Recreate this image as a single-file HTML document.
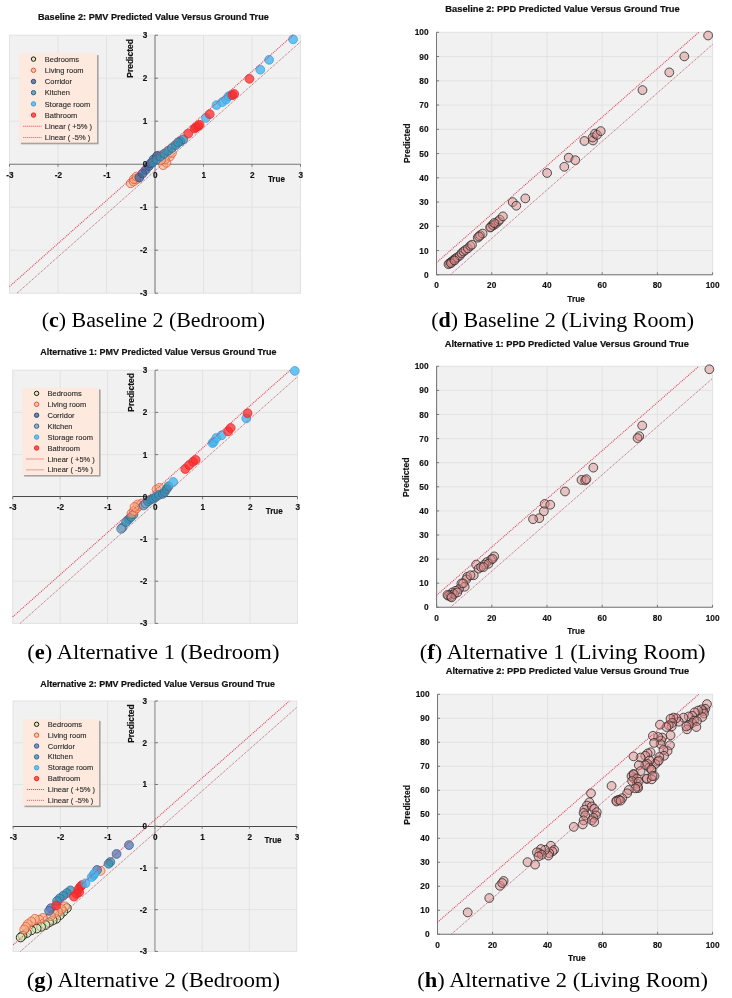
<!DOCTYPE html><html><head><meta charset="utf-8"><title>Figure</title><style>html,body{margin:0;padding:0;background:#fff;width:732px;height:998px;overflow:hidden}svg{display:block;will-change:transform}</style></head><body>
<svg width="732" height="998" viewBox="0 0 732 998">
<rect width="732" height="998" fill="#fff"/>
<rect x="9.5" y="35.2" width="291" height="258" fill="#f1f1f1" stroke="#e2e2e2" stroke-width="1"/>
<line x1="58" y1="35.2" x2="58" y2="293.2" stroke="#e1e1e1" stroke-width="0.9"/>
<line x1="9.5" y1="250.2" x2="300.5" y2="250.2" stroke="#e1e1e1" stroke-width="0.9"/>
<line x1="106.5" y1="35.2" x2="106.5" y2="293.2" stroke="#e1e1e1" stroke-width="0.9"/>
<line x1="9.5" y1="207.2" x2="300.5" y2="207.2" stroke="#e1e1e1" stroke-width="0.9"/>
<line x1="203.5" y1="35.2" x2="203.5" y2="293.2" stroke="#e1e1e1" stroke-width="0.9"/>
<line x1="9.5" y1="121.2" x2="300.5" y2="121.2" stroke="#e1e1e1" stroke-width="0.9"/>
<line x1="252" y1="35.2" x2="252" y2="293.2" stroke="#e1e1e1" stroke-width="0.9"/>
<line x1="9.5" y1="78.2" x2="300.5" y2="78.2" stroke="#e1e1e1" stroke-width="0.9"/>
<rect x="20.9" y="55.1" width="77.7" height="89.2" fill="#9a9590" opacity="0.85"/>
<rect x="19.3" y="53.5" width="77.7" height="89.2" fill="#fde9dd"/>
<circle cx="33.5" cy="59.1" r="2.2" fill="#d2e8b4" fill-opacity="0.7" stroke="#1e1e12" stroke-width="1"/>
<text x="44.8" y="61.7" font-family='"Liberation Sans", sans-serif' font-size="7.5" fill="#2c2c2c" stroke="#2c2c2c" stroke-width="0.12">Bedrooms</text>
<circle cx="33.5" cy="70.3" r="2.2" fill="#f6ad80" fill-opacity="0.6" stroke="#e0583a" stroke-width="1"/>
<text x="44.8" y="72.9" font-family='"Liberation Sans", sans-serif' font-size="7.5" fill="#2c2c2c" stroke="#2c2c2c" stroke-width="0.12">Living room</text>
<circle cx="33.5" cy="81.5" r="2.2" fill="#3d6396" fill-opacity="0.75" stroke="#2b4a80" stroke-width="1"/>
<text x="44.8" y="84.1" font-family='"Liberation Sans", sans-serif' font-size="7.5" fill="#2c2c2c" stroke="#2c2c2c" stroke-width="0.12">Corridor</text>
<circle cx="33.5" cy="92.7" r="2.2" fill="#3a8db0" fill-opacity="0.75" stroke="#2d6a96" stroke-width="1"/>
<text x="44.8" y="95.3" font-family='"Liberation Sans", sans-serif' font-size="7.5" fill="#2c2c2c" stroke="#2c2c2c" stroke-width="0.12">Kitchen</text>
<circle cx="33.5" cy="103.9" r="2.2" fill="#45b6f0" fill-opacity="0.8" stroke="#3aa2e0" stroke-width="1"/>
<text x="44.8" y="106.5" font-family='"Liberation Sans", sans-serif' font-size="7.5" fill="#2c2c2c" stroke="#2c2c2c" stroke-width="0.12">Storage room</text>
<circle cx="33.5" cy="115.1" r="2.2" fill="#ff2a2a" fill-opacity="0.75" stroke="#e02a2a" stroke-width="1"/>
<text x="44.8" y="117.7" font-family='"Liberation Sans", sans-serif' font-size="7.5" fill="#2c2c2c" stroke="#2c2c2c" stroke-width="0.12">Bathroom</text>
<line x1="23.3" y1="126.3" x2="41.8" y2="126.3" stroke="#dc3c55" stroke-width="1.05" stroke-dasharray="1 1"/>
<text x="44.8" y="128.9" font-family='"Liberation Sans", sans-serif' font-size="7.5" fill="#2c2c2c" stroke="#2c2c2c" stroke-width="0.12">Linear ( +5&#37; )</text>
<line x1="23.3" y1="137.5" x2="41.8" y2="137.5" stroke="#b8606a" stroke-width="1.0" stroke-dasharray="1 1"/>
<text x="44.8" y="140.1" font-family='"Liberation Sans", sans-serif' font-size="7.5" fill="#2c2c2c" stroke="#2c2c2c" stroke-width="0.12">Linear ( -5&#37; )</text>
<line x1="9.5" y1="164.2" x2="300.5" y2="164.2" stroke="#767676" stroke-width="1.05"/>
<line x1="155" y1="35.2" x2="155" y2="293.2" stroke="#767676" stroke-width="1.05"/>
<line x1="9.5" y1="164.2" x2="9.5" y2="166.6" stroke="#767676" stroke-width="1"/>
<line x1="155" y1="293.2" x2="158" y2="293.2" stroke="#767676" stroke-width="1"/>
<line x1="58" y1="164.2" x2="58" y2="166.6" stroke="#767676" stroke-width="1"/>
<line x1="155" y1="250.2" x2="158" y2="250.2" stroke="#767676" stroke-width="1"/>
<line x1="106.5" y1="164.2" x2="106.5" y2="166.6" stroke="#767676" stroke-width="1"/>
<line x1="155" y1="207.2" x2="158" y2="207.2" stroke="#767676" stroke-width="1"/>
<line x1="155" y1="164.2" x2="155" y2="166.6" stroke="#767676" stroke-width="1"/>
<line x1="155" y1="164.2" x2="158" y2="164.2" stroke="#767676" stroke-width="1"/>
<line x1="203.5" y1="164.2" x2="203.5" y2="166.6" stroke="#767676" stroke-width="1"/>
<line x1="155" y1="121.2" x2="158" y2="121.2" stroke="#767676" stroke-width="1"/>
<line x1="252" y1="164.2" x2="252" y2="166.6" stroke="#767676" stroke-width="1"/>
<line x1="155" y1="78.2" x2="158" y2="78.2" stroke="#767676" stroke-width="1"/>
<line x1="300.5" y1="164.2" x2="300.5" y2="166.6" stroke="#767676" stroke-width="1"/>
<line x1="155" y1="35.2" x2="158" y2="35.2" stroke="#767676" stroke-width="1"/>
<circle cx="130.7" cy="183.3" r="4.4" fill="#f6ad80" fill-opacity="0.6" stroke="#e0583a" stroke-opacity="0.9" stroke-width="0.85"/>
<circle cx="133.6" cy="181.4" r="4.4" fill="#f6ad80" fill-opacity="0.6" stroke="#e0583a" stroke-opacity="0.9" stroke-width="0.85"/>
<circle cx="136.5" cy="179.5" r="4.4" fill="#f6ad80" fill-opacity="0.6" stroke="#e0583a" stroke-opacity="0.9" stroke-width="0.85"/>
<circle cx="133.9" cy="179.1" r="4.4" fill="#f6ad80" fill-opacity="0.6" stroke="#e0583a" stroke-opacity="0.9" stroke-width="0.85"/>
<circle cx="136.4" cy="176.6" r="4.4" fill="#f6ad80" fill-opacity="0.6" stroke="#e0583a" stroke-opacity="0.9" stroke-width="0.85"/>
<circle cx="139.3" cy="177.6" r="4.4" fill="#3d6396" fill-opacity="0.75" stroke="#2b4a80" stroke-opacity="0.9" stroke-width="0.85"/>
<circle cx="145.6" cy="170" r="4.4" fill="#3d6396" fill-opacity="0.75" stroke="#2b4a80" stroke-opacity="0.9" stroke-width="0.85"/>
<circle cx="148.9" cy="166.1" r="4.4" fill="#3d6396" fill-opacity="0.75" stroke="#2b4a80" stroke-opacity="0.9" stroke-width="0.85"/>
<circle cx="142.5" cy="173.5" r="4.4" fill="#3d6396" fill-opacity="0.75" stroke="#2b4a80" stroke-opacity="0.9" stroke-width="0.85"/>
<circle cx="163.2" cy="165.2" r="4.4" fill="#f6ad80" fill-opacity="0.6" stroke="#e0583a" stroke-opacity="0.9" stroke-width="0.85"/>
<circle cx="166.5" cy="162.8" r="4.4" fill="#f6ad80" fill-opacity="0.6" stroke="#e0583a" stroke-opacity="0.9" stroke-width="0.85"/>
<circle cx="169.9" cy="156.5" r="4.4" fill="#f6ad80" fill-opacity="0.6" stroke="#e0583a" stroke-opacity="0.9" stroke-width="0.85"/>
<circle cx="159.5" cy="155.5" r="4.4" fill="#f6ad80" fill-opacity="0.6" stroke="#e0583a" stroke-opacity="0.9" stroke-width="0.85"/>
<circle cx="172" cy="153" r="4.4" fill="#f6ad80" fill-opacity="0.6" stroke="#e0583a" stroke-opacity="0.9" stroke-width="0.85"/>
<circle cx="165" cy="159.5" r="4.4" fill="#f6ad80" fill-opacity="0.6" stroke="#e0583a" stroke-opacity="0.9" stroke-width="0.85"/>
<circle cx="161" cy="160" r="4.4" fill="#f6ad80" fill-opacity="0.6" stroke="#e0583a" stroke-opacity="0.9" stroke-width="0.85"/>
<circle cx="150.5" cy="163.5" r="4.4" fill="#3d6396" fill-opacity="0.75" stroke="#2b4a80" stroke-opacity="0.9" stroke-width="0.85"/>
<circle cx="153.5" cy="159.5" r="4.4" fill="#3d6396" fill-opacity="0.75" stroke="#2b4a80" stroke-opacity="0.9" stroke-width="0.85"/>
<circle cx="157" cy="156" r="4.4" fill="#3d6396" fill-opacity="0.75" stroke="#2b4a80" stroke-opacity="0.9" stroke-width="0.85"/>
<circle cx="152.7" cy="162.3" r="4.4" fill="#3a8db0" fill-opacity="0.75" stroke="#2d6a96" stroke-opacity="0.9" stroke-width="0.85"/>
<circle cx="156.5" cy="159.4" r="4.4" fill="#3a8db0" fill-opacity="0.75" stroke="#2d6a96" stroke-opacity="0.9" stroke-width="0.85"/>
<circle cx="160.4" cy="156.5" r="4.4" fill="#3a8db0" fill-opacity="0.75" stroke="#2d6a96" stroke-opacity="0.9" stroke-width="0.85"/>
<circle cx="164.2" cy="153.7" r="4.4" fill="#3a8db0" fill-opacity="0.75" stroke="#2d6a96" stroke-opacity="0.9" stroke-width="0.85"/>
<circle cx="168" cy="150.8" r="4.4" fill="#3a8db0" fill-opacity="0.75" stroke="#2d6a96" stroke-opacity="0.9" stroke-width="0.85"/>
<circle cx="171.8" cy="148" r="4.4" fill="#3a8db0" fill-opacity="0.75" stroke="#2d6a96" stroke-opacity="0.9" stroke-width="0.85"/>
<circle cx="175.7" cy="145.1" r="4.4" fill="#3a8db0" fill-opacity="0.75" stroke="#2d6a96" stroke-opacity="0.9" stroke-width="0.85"/>
<circle cx="180.4" cy="141.3" r="4.4" fill="#3a8db0" fill-opacity="0.75" stroke="#2d6a96" stroke-opacity="0.9" stroke-width="0.85"/>
<circle cx="183.3" cy="139.3" r="4.4" fill="#3a8db0" fill-opacity="0.75" stroke="#2d6a96" stroke-opacity="0.9" stroke-width="0.85"/>
<circle cx="178.1" cy="142.5" r="4.4" fill="#3a8db0" fill-opacity="0.75" stroke="#2d6a96" stroke-opacity="0.9" stroke-width="0.85"/>
<circle cx="188.24" cy="133.62" r="4.4" fill="#ff2a2a" fill-opacity="0.75" stroke="#e02a2a" stroke-opacity="0.9" stroke-width="0.85"/>
<circle cx="194.56" cy="128.57" r="4.4" fill="#ff2a2a" fill-opacity="0.75" stroke="#e02a2a" stroke-opacity="0.9" stroke-width="0.85"/>
<circle cx="195.82" cy="127.3" r="4.4" fill="#ff2a2a" fill-opacity="0.75" stroke="#e02a2a" stroke-opacity="0.9" stroke-width="0.85"/>
<circle cx="198.35" cy="126.04" r="4.4" fill="#ff2a2a" fill-opacity="0.75" stroke="#e02a2a" stroke-opacity="0.9" stroke-width="0.85"/>
<circle cx="199.61" cy="124.77" r="4.4" fill="#ff2a2a" fill-opacity="0.75" stroke="#e02a2a" stroke-opacity="0.9" stroke-width="0.85"/>
<circle cx="205.93" cy="117.95" r="4.4" fill="#45b6f0" fill-opacity="0.8" stroke="#3aa2e0" stroke-opacity="0.9" stroke-width="0.85"/>
<circle cx="209.72" cy="114.16" r="4.4" fill="#ff2a2a" fill-opacity="0.75" stroke="#e02a2a" stroke-opacity="0.9" stroke-width="0.85"/>
<circle cx="216.54" cy="105.06" r="4.4" fill="#45b6f0" fill-opacity="0.8" stroke="#3aa2e0" stroke-opacity="0.9" stroke-width="0.85"/>
<circle cx="222.36" cy="102.03" r="4.4" fill="#45b6f0" fill-opacity="0.8" stroke="#3aa2e0" stroke-opacity="0.9" stroke-width="0.85"/>
<circle cx="226.15" cy="99.5" r="4.4" fill="#45b6f0" fill-opacity="0.8" stroke="#3aa2e0" stroke-opacity="0.9" stroke-width="0.85"/>
<circle cx="228.67" cy="96.22" r="4.4" fill="#45b6f0" fill-opacity="0.8" stroke="#3aa2e0" stroke-opacity="0.9" stroke-width="0.85"/>
<circle cx="231.2" cy="95.2" r="4.4" fill="#45b6f0" fill-opacity="0.8" stroke="#3aa2e0" stroke-opacity="0.9" stroke-width="0.85"/>
<circle cx="232.47" cy="95.2" r="4.4" fill="#ff2a2a" fill-opacity="0.75" stroke="#e02a2a" stroke-opacity="0.9" stroke-width="0.85"/>
<circle cx="234.23" cy="93.94" r="4.4" fill="#ff2a2a" fill-opacity="0.75" stroke="#e02a2a" stroke-opacity="0.9" stroke-width="0.85"/>
<circle cx="249.4" cy="78.78" r="4.4" fill="#ff2a2a" fill-opacity="0.75" stroke="#e02a2a" stroke-opacity="0.9" stroke-width="0.85"/>
<circle cx="260.27" cy="69.68" r="4.4" fill="#45b6f0" fill-opacity="0.8" stroke="#3aa2e0" stroke-opacity="0.9" stroke-width="0.85"/>
<circle cx="269.11" cy="59.82" r="4.4" fill="#45b6f0" fill-opacity="0.8" stroke="#3aa2e0" stroke-opacity="0.9" stroke-width="0.85"/>
<circle cx="293.12" cy="39.35" r="4.4" fill="#45b6f0" fill-opacity="0.8" stroke="#3aa2e0" stroke-opacity="0.9" stroke-width="0.85"/>
<line x1="9.5" y1="286.53" x2="292.98" y2="35.2" stroke="#dc3c55" stroke-width="1.05" stroke-dasharray="1 1"/>
<line x1="17.02" y1="293.2" x2="300.5" y2="41.86" stroke="#b8606a" stroke-width="1.0" stroke-dasharray="1 1"/>
<text x="147.2" y="296.15" text-anchor="end" font-family='"Liberation Sans", sans-serif' font-weight="bold" font-size="8.2" fill="#111" stroke="#111" stroke-width="0.15">-3</text>
<text x="9.8" y="177.5" text-anchor="middle" font-family='"Liberation Sans", sans-serif' font-weight="bold" font-size="8.2" fill="#111" stroke="#111" stroke-width="0.15">-3</text>
<text x="147.2" y="253.15" text-anchor="end" font-family='"Liberation Sans", sans-serif' font-weight="bold" font-size="8.2" fill="#111" stroke="#111" stroke-width="0.15">-2</text>
<text x="58.3" y="177.5" text-anchor="middle" font-family='"Liberation Sans", sans-serif' font-weight="bold" font-size="8.2" fill="#111" stroke="#111" stroke-width="0.15">-2</text>
<text x="147.2" y="210.15" text-anchor="end" font-family='"Liberation Sans", sans-serif' font-weight="bold" font-size="8.2" fill="#111" stroke="#111" stroke-width="0.15">-1</text>
<text x="106.8" y="177.5" text-anchor="middle" font-family='"Liberation Sans", sans-serif' font-weight="bold" font-size="8.2" fill="#111" stroke="#111" stroke-width="0.15">-1</text>
<text x="147.2" y="167.15" text-anchor="end" font-family='"Liberation Sans", sans-serif' font-weight="bold" font-size="8.2" fill="#111" stroke="#111" stroke-width="0.15">0</text>
<text x="155.3" y="177.5" text-anchor="middle" font-family='"Liberation Sans", sans-serif' font-weight="bold" font-size="8.2" fill="#111" stroke="#111" stroke-width="0.15">0</text>
<text x="147.2" y="124.15" text-anchor="end" font-family='"Liberation Sans", sans-serif' font-weight="bold" font-size="8.2" fill="#111" stroke="#111" stroke-width="0.15">1</text>
<text x="203.8" y="177.5" text-anchor="middle" font-family='"Liberation Sans", sans-serif' font-weight="bold" font-size="8.2" fill="#111" stroke="#111" stroke-width="0.15">1</text>
<text x="147.2" y="81.15" text-anchor="end" font-family='"Liberation Sans", sans-serif' font-weight="bold" font-size="8.2" fill="#111" stroke="#111" stroke-width="0.15">2</text>
<text x="252.3" y="177.5" text-anchor="middle" font-family='"Liberation Sans", sans-serif' font-weight="bold" font-size="8.2" fill="#111" stroke="#111" stroke-width="0.15">2</text>
<text x="147.2" y="38.15" text-anchor="end" font-family='"Liberation Sans", sans-serif' font-weight="bold" font-size="8.2" fill="#111" stroke="#111" stroke-width="0.15">3</text>
<text x="300.8" y="177.5" text-anchor="middle" font-family='"Liberation Sans", sans-serif' font-weight="bold" font-size="8.2" fill="#111" stroke="#111" stroke-width="0.15">3</text>
<text x="267.9" y="181.6" font-family='"Liberation Sans", sans-serif' font-weight="bold" font-size="8.5" fill="#111" stroke="#111" stroke-width="0.15" textLength="17" lengthAdjust="spacingAndGlyphs">True</text>
<text transform="translate(133.2,58.4) rotate(-90)" text-anchor="middle" font-family='"Liberation Sans", sans-serif' font-weight="bold" font-size="8.5" fill="#111" stroke="#111" stroke-width="0.15" textLength="38.5" lengthAdjust="spacingAndGlyphs">Predicted</text>
<rect x="12.7" y="370.2" width="284.8" height="253.2" fill="#f1f1f1" stroke="#e2e2e2" stroke-width="1"/>
<line x1="60.17" y1="370.2" x2="60.17" y2="623.4" stroke="#e1e1e1" stroke-width="0.9"/>
<line x1="12.7" y1="581.2" x2="297.5" y2="581.2" stroke="#e1e1e1" stroke-width="0.9"/>
<line x1="107.63" y1="370.2" x2="107.63" y2="623.4" stroke="#e1e1e1" stroke-width="0.9"/>
<line x1="12.7" y1="539" x2="297.5" y2="539" stroke="#e1e1e1" stroke-width="0.9"/>
<line x1="202.57" y1="370.2" x2="202.57" y2="623.4" stroke="#e1e1e1" stroke-width="0.9"/>
<line x1="12.7" y1="454.6" x2="297.5" y2="454.6" stroke="#e1e1e1" stroke-width="0.9"/>
<line x1="250.03" y1="370.2" x2="250.03" y2="623.4" stroke="#e1e1e1" stroke-width="0.9"/>
<line x1="12.7" y1="412.4" x2="297.5" y2="412.4" stroke="#e1e1e1" stroke-width="0.9"/>
<rect x="24.1" y="389.5" width="76.5" height="87.1" fill="#9a9590" opacity="0.85"/>
<rect x="22.5" y="387.9" width="76.5" height="87.1" fill="#fde9dd"/>
<circle cx="36.6" cy="393.4" r="2.2" fill="#d2e8b4" fill-opacity="0.7" stroke="#1e1e12" stroke-width="1"/>
<text x="47.5" y="396" font-family='"Liberation Sans", sans-serif' font-size="7.5" fill="#2c2c2c" stroke="#2c2c2c" stroke-width="0.12">Bedrooms</text>
<circle cx="36.6" cy="404.32" r="2.2" fill="#f6ad80" fill-opacity="0.6" stroke="#e0583a" stroke-width="1"/>
<text x="47.5" y="406.92" font-family='"Liberation Sans", sans-serif' font-size="7.5" fill="#2c2c2c" stroke="#2c2c2c" stroke-width="0.12">Living room</text>
<circle cx="36.6" cy="415.24" r="2.2" fill="#3d6396" fill-opacity="0.75" stroke="#2b4a80" stroke-width="1"/>
<text x="47.5" y="417.84" font-family='"Liberation Sans", sans-serif' font-size="7.5" fill="#2c2c2c" stroke="#2c2c2c" stroke-width="0.12">Corridor</text>
<circle cx="36.6" cy="426.16" r="2.2" fill="#78a8c0" fill-opacity="0.8" stroke="#3a6090" stroke-width="1"/>
<text x="47.5" y="428.76" font-family='"Liberation Sans", sans-serif' font-size="7.5" fill="#2c2c2c" stroke="#2c2c2c" stroke-width="0.12">Kitchen</text>
<circle cx="36.6" cy="437.08" r="2.2" fill="#45b6f0" fill-opacity="0.8" stroke="#3aa2e0" stroke-width="1"/>
<text x="47.5" y="439.68" font-family='"Liberation Sans", sans-serif' font-size="7.5" fill="#2c2c2c" stroke="#2c2c2c" stroke-width="0.12">Storage room</text>
<circle cx="36.6" cy="448" r="2.2" fill="#ff2a2a" fill-opacity="0.75" stroke="#e02a2a" stroke-width="1"/>
<text x="47.5" y="450.6" font-family='"Liberation Sans", sans-serif' font-size="7.5" fill="#2c2c2c" stroke="#2c2c2c" stroke-width="0.12">Bathroom</text>
<line x1="26.5" y1="458.92" x2="44.5" y2="458.92" stroke="#dc3c55" stroke-width="1.05" stroke-dasharray="1 1"/>
<text x="47.5" y="461.52" font-family='"Liberation Sans", sans-serif' font-size="7.5" fill="#2c2c2c" stroke="#2c2c2c" stroke-width="0.12">Linear ( +5&#37; )</text>
<line x1="26.5" y1="469.84" x2="44.5" y2="469.84" stroke="#b8606a" stroke-width="1.0" stroke-dasharray="1 1"/>
<text x="47.5" y="472.44" font-family='"Liberation Sans", sans-serif' font-size="7.5" fill="#2c2c2c" stroke="#2c2c2c" stroke-width="0.12">Linear ( -5&#37; )</text>
<line x1="12.7" y1="496.5" x2="297.5" y2="496.5" stroke="#4a4a4a" stroke-width="1.0"/>
<line x1="155.1" y1="370.2" x2="155.1" y2="623.4" stroke="#a2a2a2" stroke-width="1.4"/>
<line x1="12.7" y1="496.8" x2="12.7" y2="499.2" stroke="#767676" stroke-width="1"/>
<line x1="155.1" y1="623.4" x2="158.1" y2="623.4" stroke="#767676" stroke-width="1"/>
<line x1="60.17" y1="496.8" x2="60.17" y2="499.2" stroke="#767676" stroke-width="1"/>
<line x1="155.1" y1="581.2" x2="158.1" y2="581.2" stroke="#767676" stroke-width="1"/>
<line x1="107.63" y1="496.8" x2="107.63" y2="499.2" stroke="#767676" stroke-width="1"/>
<line x1="155.1" y1="539" x2="158.1" y2="539" stroke="#767676" stroke-width="1"/>
<line x1="155.1" y1="496.8" x2="155.1" y2="499.2" stroke="#767676" stroke-width="1"/>
<line x1="155.1" y1="496.8" x2="158.1" y2="496.8" stroke="#767676" stroke-width="1"/>
<line x1="202.57" y1="496.8" x2="202.57" y2="499.2" stroke="#767676" stroke-width="1"/>
<line x1="155.1" y1="454.6" x2="158.1" y2="454.6" stroke="#767676" stroke-width="1"/>
<line x1="250.03" y1="496.8" x2="250.03" y2="499.2" stroke="#767676" stroke-width="1"/>
<line x1="155.1" y1="412.4" x2="158.1" y2="412.4" stroke="#767676" stroke-width="1"/>
<line x1="297.5" y1="496.8" x2="297.5" y2="499.2" stroke="#767676" stroke-width="1"/>
<line x1="155.1" y1="370.2" x2="158.1" y2="370.2" stroke="#767676" stroke-width="1"/>
<circle cx="122.6" cy="527.4" r="4.4" fill="#78a8c0" fill-opacity="0.8" stroke="#3a6090" stroke-opacity="0.9" stroke-width="0.85"/>
<circle cx="121.2" cy="528.8" r="4.4" fill="#78a8c0" fill-opacity="0.8" stroke="#3a6090" stroke-opacity="0.9" stroke-width="0.85"/>
<circle cx="128.5" cy="519.5" r="4.4" fill="#3a8db0" fill-opacity="0.75" stroke="#2d6a96" stroke-opacity="0.9" stroke-width="0.85"/>
<circle cx="126" cy="522" r="4.4" fill="#3a8db0" fill-opacity="0.75" stroke="#2d6a96" stroke-opacity="0.9" stroke-width="0.85"/>
<circle cx="131" cy="517" r="4.4" fill="#3a8db0" fill-opacity="0.75" stroke="#2d6a96" stroke-opacity="0.9" stroke-width="0.85"/>
<circle cx="133.5" cy="514.5" r="4.4" fill="#3a8db0" fill-opacity="0.75" stroke="#2d6a96" stroke-opacity="0.9" stroke-width="0.85"/>
<circle cx="156.5" cy="489.5" r="4.4" fill="#f6ad80" fill-opacity="0.6" stroke="#e0583a" stroke-opacity="0.9" stroke-width="0.85"/>
<circle cx="159.5" cy="487.8" r="4.4" fill="#f6ad80" fill-opacity="0.6" stroke="#e0583a" stroke-opacity="0.9" stroke-width="0.85"/>
<circle cx="131.5" cy="513.5" r="4.4" fill="#f6ad80" fill-opacity="0.6" stroke="#e0583a" stroke-opacity="0.9" stroke-width="0.85"/>
<circle cx="134" cy="511" r="4.4" fill="#f6ad80" fill-opacity="0.6" stroke="#e0583a" stroke-opacity="0.9" stroke-width="0.85"/>
<circle cx="136.5" cy="508.5" r="4.4" fill="#f6ad80" fill-opacity="0.6" stroke="#e0583a" stroke-opacity="0.9" stroke-width="0.85"/>
<circle cx="139" cy="506" r="4.4" fill="#f6ad80" fill-opacity="0.6" stroke="#e0583a" stroke-opacity="0.9" stroke-width="0.85"/>
<circle cx="141.5" cy="503.5" r="4.4" fill="#f6ad80" fill-opacity="0.6" stroke="#e0583a" stroke-opacity="0.9" stroke-width="0.85"/>
<circle cx="137.5" cy="504.5" r="4.4" fill="#f6ad80" fill-opacity="0.6" stroke="#e0583a" stroke-opacity="0.9" stroke-width="0.85"/>
<circle cx="134.5" cy="507" r="4.4" fill="#f6ad80" fill-opacity="0.6" stroke="#e0583a" stroke-opacity="0.9" stroke-width="0.85"/>
<circle cx="143.7" cy="505.4" r="4.4" fill="#78a8c0" fill-opacity="0.8" stroke="#3a6090" stroke-opacity="0.9" stroke-width="0.85"/>
<circle cx="145.6" cy="503.5" r="4.4" fill="#78a8c0" fill-opacity="0.8" stroke="#3a6090" stroke-opacity="0.9" stroke-width="0.85"/>
<circle cx="148" cy="501.5" r="4.4" fill="#3a8db0" fill-opacity="0.75" stroke="#2d6a96" stroke-opacity="0.9" stroke-width="0.85"/>
<circle cx="150.4" cy="499.6" r="4.4" fill="#3a8db0" fill-opacity="0.75" stroke="#2d6a96" stroke-opacity="0.9" stroke-width="0.85"/>
<circle cx="153.2" cy="498.7" r="4.4" fill="#3a8db0" fill-opacity="0.75" stroke="#2d6a96" stroke-opacity="0.9" stroke-width="0.85"/>
<circle cx="156.1" cy="496.8" r="4.4" fill="#3a8db0" fill-opacity="0.75" stroke="#2d6a96" stroke-opacity="0.9" stroke-width="0.85"/>
<circle cx="159" cy="494.9" r="4.4" fill="#3a8db0" fill-opacity="0.75" stroke="#2d6a96" stroke-opacity="0.9" stroke-width="0.85"/>
<circle cx="162.8" cy="493.9" r="4.4" fill="#3a8db0" fill-opacity="0.75" stroke="#2d6a96" stroke-opacity="0.9" stroke-width="0.85"/>
<circle cx="164.7" cy="492" r="4.4" fill="#3a8db0" fill-opacity="0.75" stroke="#2d6a96" stroke-opacity="0.9" stroke-width="0.85"/>
<circle cx="166.6" cy="489.1" r="4.4" fill="#3a8db0" fill-opacity="0.75" stroke="#2d6a96" stroke-opacity="0.9" stroke-width="0.85"/>
<circle cx="168.5" cy="486.3" r="4.4" fill="#3a8db0" fill-opacity="0.75" stroke="#2d6a96" stroke-opacity="0.9" stroke-width="0.85"/>
<circle cx="173.3" cy="482" r="4.4" fill="#45b6f0" fill-opacity="0.8" stroke="#3aa2e0" stroke-opacity="0.9" stroke-width="0.85"/>
<circle cx="185.27" cy="469.02" r="4.4" fill="#ff2a2a" fill-opacity="0.75" stroke="#e02a2a" stroke-opacity="0.9" stroke-width="0.85"/>
<circle cx="189.17" cy="465.12" r="4.4" fill="#ff2a2a" fill-opacity="0.75" stroke="#e02a2a" stroke-opacity="0.9" stroke-width="0.85"/>
<circle cx="193.06" cy="461.75" r="4.4" fill="#ff2a2a" fill-opacity="0.75" stroke="#e02a2a" stroke-opacity="0.9" stroke-width="0.85"/>
<circle cx="195.66" cy="459.93" r="4.4" fill="#ff2a2a" fill-opacity="0.75" stroke="#e02a2a" stroke-opacity="0.9" stroke-width="0.85"/>
<circle cx="212.53" cy="443.06" r="4.4" fill="#45b6f0" fill-opacity="0.8" stroke="#3aa2e0" stroke-opacity="0.9" stroke-width="0.85"/>
<circle cx="213.83" cy="441.76" r="4.4" fill="#45b6f0" fill-opacity="0.8" stroke="#3aa2e0" stroke-opacity="0.9" stroke-width="0.85"/>
<circle cx="216.42" cy="437.87" r="4.4" fill="#45b6f0" fill-opacity="0.8" stroke="#3aa2e0" stroke-opacity="0.9" stroke-width="0.85"/>
<circle cx="221.61" cy="435.27" r="4.4" fill="#45b6f0" fill-opacity="0.8" stroke="#3aa2e0" stroke-opacity="0.9" stroke-width="0.85"/>
<circle cx="228.1" cy="431.38" r="4.4" fill="#ff2a2a" fill-opacity="0.75" stroke="#e02a2a" stroke-opacity="0.9" stroke-width="0.85"/>
<circle cx="230.7" cy="428.01" r="4.4" fill="#ff2a2a" fill-opacity="0.75" stroke="#e02a2a" stroke-opacity="0.9" stroke-width="0.85"/>
<circle cx="246.27" cy="418.4" r="4.4" fill="#45b6f0" fill-opacity="0.8" stroke="#3aa2e0" stroke-opacity="0.9" stroke-width="0.85"/>
<circle cx="247.57" cy="413.21" r="4.4" fill="#ff2a2a" fill-opacity="0.75" stroke="#e02a2a" stroke-opacity="0.9" stroke-width="0.85"/>
<circle cx="294.81" cy="370.9" r="4.4" fill="#45b6f0" fill-opacity="0.8" stroke="#3aa2e0" stroke-opacity="0.9" stroke-width="0.85"/>
<line x1="12.7" y1="616.86" x2="290.14" y2="370.2" stroke="#dc3c55" stroke-width="1.05" stroke-dasharray="1 1"/>
<line x1="20.06" y1="623.4" x2="297.5" y2="376.74" stroke="#b8606a" stroke-width="1.0" stroke-dasharray="1 1"/>
<text x="147.3" y="626.35" text-anchor="end" font-family='"Liberation Sans", sans-serif' font-weight="bold" font-size="8.2" fill="#111" stroke="#111" stroke-width="0.15">-3</text>
<text x="13" y="510.1" text-anchor="middle" font-family='"Liberation Sans", sans-serif' font-weight="bold" font-size="8.2" fill="#111" stroke="#111" stroke-width="0.15">-3</text>
<text x="147.3" y="584.15" text-anchor="end" font-family='"Liberation Sans", sans-serif' font-weight="bold" font-size="8.2" fill="#111" stroke="#111" stroke-width="0.15">-2</text>
<text x="60.47" y="510.1" text-anchor="middle" font-family='"Liberation Sans", sans-serif' font-weight="bold" font-size="8.2" fill="#111" stroke="#111" stroke-width="0.15">-2</text>
<text x="147.3" y="541.95" text-anchor="end" font-family='"Liberation Sans", sans-serif' font-weight="bold" font-size="8.2" fill="#111" stroke="#111" stroke-width="0.15">-1</text>
<text x="107.93" y="510.1" text-anchor="middle" font-family='"Liberation Sans", sans-serif' font-weight="bold" font-size="8.2" fill="#111" stroke="#111" stroke-width="0.15">-1</text>
<text x="147.3" y="499.75" text-anchor="end" font-family='"Liberation Sans", sans-serif' font-weight="bold" font-size="8.2" fill="#111" stroke="#111" stroke-width="0.15">0</text>
<text x="155.4" y="510.1" text-anchor="middle" font-family='"Liberation Sans", sans-serif' font-weight="bold" font-size="8.2" fill="#111" stroke="#111" stroke-width="0.15">0</text>
<text x="147.3" y="457.55" text-anchor="end" font-family='"Liberation Sans", sans-serif' font-weight="bold" font-size="8.2" fill="#111" stroke="#111" stroke-width="0.15">1</text>
<text x="202.87" y="510.1" text-anchor="middle" font-family='"Liberation Sans", sans-serif' font-weight="bold" font-size="8.2" fill="#111" stroke="#111" stroke-width="0.15">1</text>
<text x="147.3" y="415.35" text-anchor="end" font-family='"Liberation Sans", sans-serif' font-weight="bold" font-size="8.2" fill="#111" stroke="#111" stroke-width="0.15">2</text>
<text x="250.33" y="510.1" text-anchor="middle" font-family='"Liberation Sans", sans-serif' font-weight="bold" font-size="8.2" fill="#111" stroke="#111" stroke-width="0.15">2</text>
<text x="147.3" y="373.15" text-anchor="end" font-family='"Liberation Sans", sans-serif' font-weight="bold" font-size="8.2" fill="#111" stroke="#111" stroke-width="0.15">3</text>
<text x="297.8" y="510.1" text-anchor="middle" font-family='"Liberation Sans", sans-serif' font-weight="bold" font-size="8.2" fill="#111" stroke="#111" stroke-width="0.15">3</text>
<text x="265.7" y="513.7" font-family='"Liberation Sans", sans-serif' font-weight="bold" font-size="8.5" fill="#111" stroke="#111" stroke-width="0.15" textLength="17" lengthAdjust="spacingAndGlyphs">True</text>
<text transform="translate(134.2,392.4) rotate(-90)" text-anchor="middle" font-family='"Liberation Sans", sans-serif' font-weight="bold" font-size="8.5" fill="#111" stroke="#111" stroke-width="0.15" textLength="38.5" lengthAdjust="spacingAndGlyphs">Predicted</text>
<rect x="13.1" y="701" width="283.6" height="250.4" fill="#f1f1f1" stroke="#e2e2e2" stroke-width="1"/>
<line x1="60.37" y1="701" x2="60.37" y2="951.4" stroke="#e1e1e1" stroke-width="0.9"/>
<line x1="13.1" y1="909.67" x2="296.7" y2="909.67" stroke="#e1e1e1" stroke-width="0.9"/>
<line x1="107.63" y1="701" x2="107.63" y2="951.4" stroke="#e1e1e1" stroke-width="0.9"/>
<line x1="13.1" y1="867.93" x2="296.7" y2="867.93" stroke="#e1e1e1" stroke-width="0.9"/>
<line x1="202.17" y1="701" x2="202.17" y2="951.4" stroke="#e1e1e1" stroke-width="0.9"/>
<line x1="13.1" y1="784.47" x2="296.7" y2="784.47" stroke="#e1e1e1" stroke-width="0.9"/>
<line x1="249.43" y1="701" x2="249.43" y2="951.4" stroke="#e1e1e1" stroke-width="0.9"/>
<line x1="13.1" y1="742.73" x2="296.7" y2="742.73" stroke="#e1e1e1" stroke-width="0.9"/>
<rect x="24.5" y="720.9" width="76.1" height="86.3" fill="#9a9590" opacity="0.85"/>
<rect x="22.9" y="719.3" width="76.1" height="86.3" fill="#fde9dd"/>
<circle cx="36.6" cy="724.3" r="2.2" fill="#d2e8b4" fill-opacity="0.7" stroke="#1e1e12" stroke-width="1"/>
<text x="47.8" y="726.9" font-family='"Liberation Sans", sans-serif' font-size="7.5" fill="#2c2c2c" stroke="#2c2c2c" stroke-width="0.12">Bedrooms</text>
<circle cx="36.6" cy="735.16" r="2.2" fill="#f6ad80" fill-opacity="0.6" stroke="#e0583a" stroke-width="1"/>
<text x="47.8" y="737.76" font-family='"Liberation Sans", sans-serif' font-size="7.5" fill="#2c2c2c" stroke="#2c2c2c" stroke-width="0.12">Living room</text>
<circle cx="36.6" cy="746.02" r="2.2" fill="#5b82bb" fill-opacity="0.8" stroke="#3a5a90" stroke-width="1"/>
<text x="47.8" y="748.62" font-family='"Liberation Sans", sans-serif' font-size="7.5" fill="#2c2c2c" stroke="#2c2c2c" stroke-width="0.12">Corridor</text>
<circle cx="36.6" cy="756.88" r="2.2" fill="#3a8db0" fill-opacity="0.75" stroke="#2d6a96" stroke-width="1"/>
<text x="47.8" y="759.48" font-family='"Liberation Sans", sans-serif' font-size="7.5" fill="#2c2c2c" stroke="#2c2c2c" stroke-width="0.12">Kitchen</text>
<circle cx="36.6" cy="767.74" r="2.2" fill="#45b6f0" fill-opacity="0.8" stroke="#3aa2e0" stroke-width="1"/>
<text x="47.8" y="770.34" font-family='"Liberation Sans", sans-serif' font-size="7.5" fill="#2c2c2c" stroke="#2c2c2c" stroke-width="0.12">Storage room</text>
<circle cx="36.6" cy="778.6" r="2.2" fill="#ff2a2a" fill-opacity="0.75" stroke="#e02a2a" stroke-width="1"/>
<text x="47.8" y="781.2" font-family='"Liberation Sans", sans-serif' font-size="7.5" fill="#2c2c2c" stroke="#2c2c2c" stroke-width="0.12">Bathroom</text>
<line x1="26.9" y1="789.46" x2="44.8" y2="789.46" stroke="#dc3c55" stroke-width="1.05" stroke-dasharray="1 1"/>
<text x="47.8" y="792.06" font-family='"Liberation Sans", sans-serif' font-size="7.5" fill="#2c2c2c" stroke="#2c2c2c" stroke-width="0.12">Linear ( +5&#37; )</text>
<line x1="26.9" y1="800.32" x2="44.8" y2="800.32" stroke="#b8606a" stroke-width="1.0" stroke-dasharray="1 1"/>
<text x="47.8" y="802.92" font-family='"Liberation Sans", sans-serif' font-size="7.5" fill="#2c2c2c" stroke="#2c2c2c" stroke-width="0.12">Linear ( -5&#37; )</text>
<line x1="13.1" y1="826.5" x2="296.7" y2="826.5" stroke="#4a4a4a" stroke-width="1.0"/>
<line x1="154.9" y1="701" x2="154.9" y2="951.4" stroke="#a2a2a2" stroke-width="1.4"/>
<line x1="13.1" y1="826.2" x2="13.1" y2="828.6" stroke="#767676" stroke-width="1"/>
<line x1="154.9" y1="951.4" x2="157.9" y2="951.4" stroke="#767676" stroke-width="1"/>
<line x1="60.37" y1="826.2" x2="60.37" y2="828.6" stroke="#767676" stroke-width="1"/>
<line x1="154.9" y1="909.67" x2="157.9" y2="909.67" stroke="#767676" stroke-width="1"/>
<line x1="107.63" y1="826.2" x2="107.63" y2="828.6" stroke="#767676" stroke-width="1"/>
<line x1="154.9" y1="867.93" x2="157.9" y2="867.93" stroke="#767676" stroke-width="1"/>
<line x1="154.9" y1="826.2" x2="154.9" y2="828.6" stroke="#767676" stroke-width="1"/>
<line x1="154.9" y1="826.2" x2="157.9" y2="826.2" stroke="#767676" stroke-width="1"/>
<line x1="202.17" y1="826.2" x2="202.17" y2="828.6" stroke="#767676" stroke-width="1"/>
<line x1="154.9" y1="784.47" x2="157.9" y2="784.47" stroke="#767676" stroke-width="1"/>
<line x1="249.43" y1="826.2" x2="249.43" y2="828.6" stroke="#767676" stroke-width="1"/>
<line x1="154.9" y1="742.73" x2="157.9" y2="742.73" stroke="#767676" stroke-width="1"/>
<line x1="296.7" y1="826.2" x2="296.7" y2="828.6" stroke="#767676" stroke-width="1"/>
<line x1="154.9" y1="701" x2="157.9" y2="701" stroke="#767676" stroke-width="1"/>
<circle cx="66.83" cy="908.14" r="4.4" fill="#d2e8b4" fill-opacity="0.7" stroke="#1e1e12" stroke-opacity="0.9" stroke-width="1.0"/>
<circle cx="63.28" cy="911.69" r="4.4" fill="#d2e8b4" fill-opacity="0.7" stroke="#1e1e12" stroke-opacity="0.9" stroke-width="1.0"/>
<circle cx="59.73" cy="915.25" r="4.4" fill="#d2e8b4" fill-opacity="0.7" stroke="#1e1e12" stroke-opacity="0.9" stroke-width="1.0"/>
<circle cx="56.17" cy="918.8" r="4.4" fill="#d2e8b4" fill-opacity="0.7" stroke="#1e1e12" stroke-opacity="0.9" stroke-width="1.0"/>
<circle cx="52.62" cy="920.57" r="4.4" fill="#d2e8b4" fill-opacity="0.7" stroke="#1e1e12" stroke-opacity="0.9" stroke-width="1.0"/>
<circle cx="49.07" cy="922.35" r="4.4" fill="#d2e8b4" fill-opacity="0.7" stroke="#1e1e12" stroke-opacity="0.9" stroke-width="1.0"/>
<circle cx="45.52" cy="925.01" r="4.4" fill="#d2e8b4" fill-opacity="0.7" stroke="#1e1e12" stroke-opacity="0.9" stroke-width="1.0"/>
<circle cx="41.08" cy="926.79" r="4.4" fill="#d2e8b4" fill-opacity="0.7" stroke="#1e1e12" stroke-opacity="0.9" stroke-width="1.0"/>
<circle cx="36.64" cy="928.57" r="4.4" fill="#d2e8b4" fill-opacity="0.7" stroke="#1e1e12" stroke-opacity="0.9" stroke-width="1.0"/>
<circle cx="31.31" cy="930.34" r="4.4" fill="#d2e8b4" fill-opacity="0.7" stroke="#1e1e12" stroke-opacity="0.9" stroke-width="1.0"/>
<circle cx="26.87" cy="933.01" r="4.4" fill="#d2e8b4" fill-opacity="0.7" stroke="#1e1e12" stroke-opacity="0.9" stroke-width="1.0"/>
<circle cx="22.43" cy="935.67" r="4.4" fill="#d2e8b4" fill-opacity="0.7" stroke="#1e1e12" stroke-opacity="0.9" stroke-width="1.0"/>
<circle cx="20.66" cy="937.45" r="4.4" fill="#d2e8b4" fill-opacity="0.7" stroke="#1e1e12" stroke-opacity="0.9" stroke-width="1.0"/>
<circle cx="65.05" cy="906.37" r="4.4" fill="#f6ad80" fill-opacity="0.6" stroke="#e0583a" stroke-opacity="0.9" stroke-width="0.85"/>
<circle cx="61.5" cy="909.03" r="4.4" fill="#f6ad80" fill-opacity="0.6" stroke="#e0583a" stroke-opacity="0.9" stroke-width="0.85"/>
<circle cx="57.95" cy="911.69" r="4.4" fill="#f6ad80" fill-opacity="0.6" stroke="#e0583a" stroke-opacity="0.9" stroke-width="0.85"/>
<circle cx="54.4" cy="913.47" r="4.4" fill="#f6ad80" fill-opacity="0.6" stroke="#e0583a" stroke-opacity="0.9" stroke-width="0.85"/>
<circle cx="50.85" cy="916.13" r="4.4" fill="#f6ad80" fill-opacity="0.6" stroke="#e0583a" stroke-opacity="0.9" stroke-width="0.85"/>
<circle cx="42.86" cy="917.91" r="4.4" fill="#f6ad80" fill-opacity="0.6" stroke="#e0583a" stroke-opacity="0.9" stroke-width="0.85"/>
<circle cx="39.3" cy="919.69" r="4.4" fill="#f6ad80" fill-opacity="0.6" stroke="#e0583a" stroke-opacity="0.9" stroke-width="0.85"/>
<circle cx="34.86" cy="918.8" r="4.4" fill="#f6ad80" fill-opacity="0.6" stroke="#e0583a" stroke-opacity="0.9" stroke-width="0.85"/>
<circle cx="31.31" cy="921.46" r="4.4" fill="#f6ad80" fill-opacity="0.6" stroke="#e0583a" stroke-opacity="0.9" stroke-width="0.85"/>
<circle cx="27.76" cy="924.13" r="4.4" fill="#f6ad80" fill-opacity="0.6" stroke="#e0583a" stroke-opacity="0.9" stroke-width="0.85"/>
<circle cx="25.98" cy="926.79" r="4.4" fill="#f6ad80" fill-opacity="0.6" stroke="#e0583a" stroke-opacity="0.9" stroke-width="0.85"/>
<circle cx="24.21" cy="929.45" r="4.4" fill="#f6ad80" fill-opacity="0.6" stroke="#e0583a" stroke-opacity="0.9" stroke-width="0.85"/>
<circle cx="50.85" cy="908.14" r="4.4" fill="#5b82bb" fill-opacity="0.8" stroke="#3a5a90" stroke-opacity="0.9" stroke-width="0.85"/>
<circle cx="49.07" cy="910.81" r="4.4" fill="#5b82bb" fill-opacity="0.8" stroke="#3a5a90" stroke-opacity="0.9" stroke-width="0.85"/>
<circle cx="70.38" cy="890.38" r="4.4" fill="#3a8db0" fill-opacity="0.75" stroke="#2d6a96" stroke-opacity="0.9" stroke-width="0.85"/>
<circle cx="66.83" cy="893.05" r="4.4" fill="#3a8db0" fill-opacity="0.75" stroke="#2d6a96" stroke-opacity="0.9" stroke-width="0.85"/>
<circle cx="63.28" cy="895.71" r="4.4" fill="#3a8db0" fill-opacity="0.75" stroke="#2d6a96" stroke-opacity="0.9" stroke-width="0.85"/>
<circle cx="59.73" cy="898.37" r="4.4" fill="#3a8db0" fill-opacity="0.75" stroke="#2d6a96" stroke-opacity="0.9" stroke-width="0.85"/>
<circle cx="57.06" cy="901.04" r="4.4" fill="#3a8db0" fill-opacity="0.75" stroke="#2d6a96" stroke-opacity="0.9" stroke-width="0.85"/>
<circle cx="56.17" cy="905.48" r="4.4" fill="#ff2a2a" fill-opacity="0.75" stroke="#e02a2a" stroke-opacity="0.9" stroke-width="0.85"/>
<circle cx="81.93" cy="885.05" r="4.4" fill="#ff2a2a" fill-opacity="0.75" stroke="#e02a2a" stroke-opacity="0.9" stroke-width="0.85"/>
<circle cx="80.15" cy="886.83" r="4.4" fill="#ff2a2a" fill-opacity="0.75" stroke="#e02a2a" stroke-opacity="0.9" stroke-width="0.85"/>
<circle cx="78.37" cy="889.49" r="4.4" fill="#ff2a2a" fill-opacity="0.75" stroke="#e02a2a" stroke-opacity="0.9" stroke-width="0.85"/>
<circle cx="79.26" cy="892.16" r="4.4" fill="#ff2a2a" fill-opacity="0.75" stroke="#e02a2a" stroke-opacity="0.9" stroke-width="0.85"/>
<circle cx="76.6" cy="893.93" r="4.4" fill="#ff2a2a" fill-opacity="0.75" stroke="#e02a2a" stroke-opacity="0.9" stroke-width="0.85"/>
<circle cx="73.93" cy="896.6" r="4.4" fill="#ff2a2a" fill-opacity="0.75" stroke="#e02a2a" stroke-opacity="0.9" stroke-width="0.85"/>
<circle cx="100.57" cy="870.85" r="4.4" fill="#f6ad80" fill-opacity="0.6" stroke="#e0583a" stroke-opacity="0.9" stroke-width="0.85"/>
<circle cx="97.02" cy="869.96" r="4.4" fill="#5b82bb" fill-opacity="0.8" stroke="#3a5a90" stroke-opacity="0.9" stroke-width="0.85"/>
<circle cx="85.48" cy="883.28" r="4.4" fill="#45b6f0" fill-opacity="0.8" stroke="#3aa2e0" stroke-opacity="0.9" stroke-width="0.85"/>
<circle cx="93.47" cy="875.29" r="4.4" fill="#45b6f0" fill-opacity="0.8" stroke="#3aa2e0" stroke-opacity="0.9" stroke-width="0.85"/>
<circle cx="91.69" cy="877.06" r="4.4" fill="#45b6f0" fill-opacity="0.8" stroke="#3aa2e0" stroke-opacity="0.9" stroke-width="0.85"/>
<circle cx="94.36" cy="873.51" r="4.4" fill="#45b6f0" fill-opacity="0.8" stroke="#3aa2e0" stroke-opacity="0.9" stroke-width="0.85"/>
<circle cx="110.34" cy="861.97" r="4.4" fill="#3a8db0" fill-opacity="0.75" stroke="#2d6a96" stroke-opacity="0.9" stroke-width="0.85"/>
<circle cx="108.57" cy="863.74" r="4.4" fill="#3a8db0" fill-opacity="0.75" stroke="#2d6a96" stroke-opacity="0.9" stroke-width="0.85"/>
<circle cx="128.99" cy="845.1" r="4.4" fill="#5b82bb" fill-opacity="0.8" stroke="#3a5a90" stroke-opacity="0.9" stroke-width="0.85"/>
<circle cx="116.56" cy="853.98" r="4.4" fill="#5b82bb" fill-opacity="0.8" stroke="#3a5a90" stroke-opacity="0.9" stroke-width="0.85"/>
<line x1="13.1" y1="944.93" x2="289.37" y2="701" stroke="#dc3c55" stroke-width="1.05" stroke-dasharray="1 1"/>
<line x1="20.43" y1="951.4" x2="296.7" y2="707.47" stroke="#b8606a" stroke-width="1.0" stroke-dasharray="1 1"/>
<text x="147.1" y="954.35" text-anchor="end" font-family='"Liberation Sans", sans-serif' font-weight="bold" font-size="8.2" fill="#111" stroke="#111" stroke-width="0.15">-3</text>
<text x="13.4" y="839.5" text-anchor="middle" font-family='"Liberation Sans", sans-serif' font-weight="bold" font-size="8.2" fill="#111" stroke="#111" stroke-width="0.15">-3</text>
<text x="147.1" y="912.62" text-anchor="end" font-family='"Liberation Sans", sans-serif' font-weight="bold" font-size="8.2" fill="#111" stroke="#111" stroke-width="0.15">-2</text>
<text x="60.67" y="839.5" text-anchor="middle" font-family='"Liberation Sans", sans-serif' font-weight="bold" font-size="8.2" fill="#111" stroke="#111" stroke-width="0.15">-2</text>
<text x="147.1" y="870.88" text-anchor="end" font-family='"Liberation Sans", sans-serif' font-weight="bold" font-size="8.2" fill="#111" stroke="#111" stroke-width="0.15">-1</text>
<text x="107.93" y="839.5" text-anchor="middle" font-family='"Liberation Sans", sans-serif' font-weight="bold" font-size="8.2" fill="#111" stroke="#111" stroke-width="0.15">-1</text>
<text x="147.1" y="829.15" text-anchor="end" font-family='"Liberation Sans", sans-serif' font-weight="bold" font-size="8.2" fill="#111" stroke="#111" stroke-width="0.15">0</text>
<text x="155.2" y="839.5" text-anchor="middle" font-family='"Liberation Sans", sans-serif' font-weight="bold" font-size="8.2" fill="#111" stroke="#111" stroke-width="0.15">0</text>
<text x="147.1" y="787.42" text-anchor="end" font-family='"Liberation Sans", sans-serif' font-weight="bold" font-size="8.2" fill="#111" stroke="#111" stroke-width="0.15">1</text>
<text x="202.47" y="839.5" text-anchor="middle" font-family='"Liberation Sans", sans-serif' font-weight="bold" font-size="8.2" fill="#111" stroke="#111" stroke-width="0.15">1</text>
<text x="147.1" y="745.68" text-anchor="end" font-family='"Liberation Sans", sans-serif' font-weight="bold" font-size="8.2" fill="#111" stroke="#111" stroke-width="0.15">2</text>
<text x="249.73" y="839.5" text-anchor="middle" font-family='"Liberation Sans", sans-serif' font-weight="bold" font-size="8.2" fill="#111" stroke="#111" stroke-width="0.15">2</text>
<text x="147.1" y="703.95" text-anchor="end" font-family='"Liberation Sans", sans-serif' font-weight="bold" font-size="8.2" fill="#111" stroke="#111" stroke-width="0.15">3</text>
<text x="297" y="839.5" text-anchor="middle" font-family='"Liberation Sans", sans-serif' font-weight="bold" font-size="8.2" fill="#111" stroke="#111" stroke-width="0.15">3</text>
<text x="264.6" y="843.2" font-family='"Liberation Sans", sans-serif' font-weight="bold" font-size="8.5" fill="#111" stroke="#111" stroke-width="0.15" textLength="17" lengthAdjust="spacingAndGlyphs">True</text>
<text transform="translate(134.2,723.6) rotate(-90)" text-anchor="middle" font-family='"Liberation Sans", sans-serif' font-weight="bold" font-size="8.5" fill="#111" stroke="#111" stroke-width="0.15" textLength="38.5" lengthAdjust="spacingAndGlyphs">Predicted</text>
<rect x="436.5" y="32.3" width="276.1" height="242.5" fill="#f1f1f1" stroke="#e2e2e2" stroke-width="1"/>
<line x1="491.72" y1="32.3" x2="491.72" y2="274.8" stroke="#e1e1e1" stroke-width="0.9"/>
<line x1="546.94" y1="32.3" x2="546.94" y2="274.8" stroke="#e1e1e1" stroke-width="0.9"/>
<line x1="602.16" y1="32.3" x2="602.16" y2="274.8" stroke="#e1e1e1" stroke-width="0.9"/>
<line x1="657.38" y1="32.3" x2="657.38" y2="274.8" stroke="#e1e1e1" stroke-width="0.9"/>
<line x1="436.5" y1="250.55" x2="712.6" y2="250.55" stroke="#e1e1e1" stroke-width="0.9"/>
<line x1="436.5" y1="226.3" x2="712.6" y2="226.3" stroke="#e1e1e1" stroke-width="0.9"/>
<line x1="436.5" y1="202.05" x2="712.6" y2="202.05" stroke="#e1e1e1" stroke-width="0.9"/>
<line x1="436.5" y1="177.8" x2="712.6" y2="177.8" stroke="#e1e1e1" stroke-width="0.9"/>
<line x1="436.5" y1="153.55" x2="712.6" y2="153.55" stroke="#e1e1e1" stroke-width="0.9"/>
<line x1="436.5" y1="129.3" x2="712.6" y2="129.3" stroke="#e1e1e1" stroke-width="0.9"/>
<line x1="436.5" y1="105.05" x2="712.6" y2="105.05" stroke="#e1e1e1" stroke-width="0.9"/>
<line x1="436.5" y1="80.8" x2="712.6" y2="80.8" stroke="#e1e1e1" stroke-width="0.9"/>
<line x1="436.5" y1="56.55" x2="712.6" y2="56.55" stroke="#e1e1e1" stroke-width="0.9"/>
<line x1="436.5" y1="274.8" x2="712.6" y2="274.8" stroke="#767676" stroke-width="1.05"/>
<line x1="436.5" y1="32.3" x2="436.5" y2="274.8" stroke="#767676" stroke-width="1.05"/>
<line x1="436.5" y1="274.8" x2="436.5" y2="272.3" stroke="#767676" stroke-width="1"/>
<line x1="491.72" y1="274.8" x2="491.72" y2="272.3" stroke="#767676" stroke-width="1"/>
<line x1="546.94" y1="274.8" x2="546.94" y2="272.3" stroke="#767676" stroke-width="1"/>
<line x1="602.16" y1="274.8" x2="602.16" y2="272.3" stroke="#767676" stroke-width="1"/>
<line x1="657.38" y1="274.8" x2="657.38" y2="272.3" stroke="#767676" stroke-width="1"/>
<line x1="712.6" y1="274.8" x2="712.6" y2="272.3" stroke="#767676" stroke-width="1"/>
<line x1="436.5" y1="274.8" x2="439" y2="274.8" stroke="#767676" stroke-width="1"/>
<line x1="436.5" y1="250.55" x2="439" y2="250.55" stroke="#767676" stroke-width="1"/>
<line x1="436.5" y1="226.3" x2="439" y2="226.3" stroke="#767676" stroke-width="1"/>
<line x1="436.5" y1="202.05" x2="439" y2="202.05" stroke="#767676" stroke-width="1"/>
<line x1="436.5" y1="177.8" x2="439" y2="177.8" stroke="#767676" stroke-width="1"/>
<line x1="436.5" y1="153.55" x2="439" y2="153.55" stroke="#767676" stroke-width="1"/>
<line x1="436.5" y1="129.3" x2="439" y2="129.3" stroke="#767676" stroke-width="1"/>
<line x1="436.5" y1="105.05" x2="439" y2="105.05" stroke="#767676" stroke-width="1"/>
<line x1="436.5" y1="80.8" x2="439" y2="80.8" stroke="#767676" stroke-width="1"/>
<line x1="436.5" y1="56.55" x2="439" y2="56.55" stroke="#767676" stroke-width="1"/>
<line x1="436.5" y1="32.3" x2="439" y2="32.3" stroke="#767676" stroke-width="1"/>
<circle cx="449.5" cy="263.5" r="4.4" fill="#dd8a8a" fill-opacity="0.47" stroke="#262626" stroke-opacity="0.92" stroke-width="0.85"/>
<circle cx="450.7" cy="262.3" r="4.4" fill="#dd8a8a" fill-opacity="0.47" stroke="#262626" stroke-opacity="0.92" stroke-width="0.85"/>
<circle cx="452" cy="261.5" r="4.4" fill="#dd8a8a" fill-opacity="0.47" stroke="#262626" stroke-opacity="0.92" stroke-width="0.85"/>
<circle cx="453.9" cy="259.8" r="4.4" fill="#dd8a8a" fill-opacity="0.47" stroke="#262626" stroke-opacity="0.92" stroke-width="0.85"/>
<circle cx="455.5" cy="258.5" r="4.4" fill="#dd8a8a" fill-opacity="0.47" stroke="#262626" stroke-opacity="0.92" stroke-width="0.85"/>
<circle cx="457.2" cy="257.4" r="4.4" fill="#dd8a8a" fill-opacity="0.47" stroke="#262626" stroke-opacity="0.92" stroke-width="0.85"/>
<circle cx="459.7" cy="255.7" r="4.4" fill="#dd8a8a" fill-opacity="0.47" stroke="#262626" stroke-opacity="0.92" stroke-width="0.85"/>
<circle cx="448.5" cy="264.2" r="4.4" fill="#dd8a8a" fill-opacity="0.47" stroke="#262626" stroke-opacity="0.92" stroke-width="0.85"/>
<circle cx="451" cy="263.2" r="4.4" fill="#dd8a8a" fill-opacity="0.47" stroke="#262626" stroke-opacity="0.92" stroke-width="0.85"/>
<circle cx="454.5" cy="260.5" r="4.4" fill="#dd8a8a" fill-opacity="0.47" stroke="#262626" stroke-opacity="0.92" stroke-width="0.85"/>
<circle cx="461.5" cy="253.2" r="4.4" fill="#dd8a8a" fill-opacity="0.47" stroke="#262626" stroke-opacity="0.92" stroke-width="0.85"/>
<circle cx="463.5" cy="251.5" r="4.4" fill="#dd8a8a" fill-opacity="0.47" stroke="#262626" stroke-opacity="0.92" stroke-width="0.85"/>
<circle cx="465.4" cy="250" r="4.4" fill="#dd8a8a" fill-opacity="0.47" stroke="#262626" stroke-opacity="0.92" stroke-width="0.85"/>
<circle cx="467.9" cy="248.4" r="4.4" fill="#dd8a8a" fill-opacity="0.47" stroke="#262626" stroke-opacity="0.92" stroke-width="0.85"/>
<circle cx="470.3" cy="245.9" r="4.4" fill="#dd8a8a" fill-opacity="0.47" stroke="#262626" stroke-opacity="0.92" stroke-width="0.85"/>
<circle cx="472" cy="244.7" r="4.4" fill="#dd8a8a" fill-opacity="0.47" stroke="#262626" stroke-opacity="0.92" stroke-width="0.85"/>
<circle cx="477.7" cy="237.7" r="4.4" fill="#dd8a8a" fill-opacity="0.47" stroke="#262626" stroke-opacity="0.92" stroke-width="0.85"/>
<circle cx="480.2" cy="235.2" r="4.4" fill="#dd8a8a" fill-opacity="0.47" stroke="#262626" stroke-opacity="0.92" stroke-width="0.85"/>
<circle cx="482.6" cy="233.6" r="4.4" fill="#dd8a8a" fill-opacity="0.47" stroke="#262626" stroke-opacity="0.92" stroke-width="0.85"/>
<circle cx="479" cy="236.5" r="4.4" fill="#dd8a8a" fill-opacity="0.47" stroke="#262626" stroke-opacity="0.92" stroke-width="0.85"/>
<circle cx="490.8" cy="227" r="4.4" fill="#dd8a8a" fill-opacity="0.47" stroke="#262626" stroke-opacity="0.92" stroke-width="0.85"/>
<circle cx="492.5" cy="225" r="4.4" fill="#dd8a8a" fill-opacity="0.47" stroke="#262626" stroke-opacity="0.92" stroke-width="0.85"/>
<circle cx="493.3" cy="225.4" r="4.4" fill="#dd8a8a" fill-opacity="0.47" stroke="#262626" stroke-opacity="0.92" stroke-width="0.85"/>
<circle cx="495.7" cy="223.8" r="4.4" fill="#dd8a8a" fill-opacity="0.47" stroke="#262626" stroke-opacity="0.92" stroke-width="0.85"/>
<circle cx="498.2" cy="221.3" r="4.4" fill="#dd8a8a" fill-opacity="0.47" stroke="#262626" stroke-opacity="0.92" stroke-width="0.85"/>
<circle cx="499.8" cy="219.7" r="4.4" fill="#dd8a8a" fill-opacity="0.47" stroke="#262626" stroke-opacity="0.92" stroke-width="0.85"/>
<circle cx="502.9" cy="216.4" r="4.4" fill="#dd8a8a" fill-opacity="0.47" stroke="#262626" stroke-opacity="0.92" stroke-width="0.85"/>
<circle cx="490.1" cy="227.5" r="4.4" fill="#dd8a8a" fill-opacity="0.47" stroke="#262626" stroke-opacity="0.92" stroke-width="0.85"/>
<circle cx="494.2" cy="223" r="4.4" fill="#dd8a8a" fill-opacity="0.47" stroke="#262626" stroke-opacity="0.92" stroke-width="0.85"/>
<circle cx="512.7" cy="202.1" r="4.4" fill="#dd8a8a" fill-opacity="0.47" stroke="#262626" stroke-opacity="0.92" stroke-width="0.85"/>
<circle cx="516.3" cy="205.7" r="4.4" fill="#dd8a8a" fill-opacity="0.47" stroke="#262626" stroke-opacity="0.92" stroke-width="0.85"/>
<circle cx="525.3" cy="198.4" r="4.4" fill="#dd8a8a" fill-opacity="0.47" stroke="#262626" stroke-opacity="0.92" stroke-width="0.85"/>
<circle cx="547.1" cy="173" r="4.4" fill="#dd8a8a" fill-opacity="0.47" stroke="#262626" stroke-opacity="0.92" stroke-width="0.85"/>
<circle cx="564.3" cy="166.8" r="4.4" fill="#dd8a8a" fill-opacity="0.47" stroke="#262626" stroke-opacity="0.92" stroke-width="0.85"/>
<circle cx="568.7" cy="157.7" r="4.4" fill="#dd8a8a" fill-opacity="0.47" stroke="#262626" stroke-opacity="0.92" stroke-width="0.85"/>
<circle cx="575.3" cy="160.2" r="4.4" fill="#dd8a8a" fill-opacity="0.47" stroke="#262626" stroke-opacity="0.92" stroke-width="0.85"/>
<circle cx="584.4" cy="141" r="4.4" fill="#dd8a8a" fill-opacity="0.47" stroke="#262626" stroke-opacity="0.92" stroke-width="0.85"/>
<circle cx="593" cy="140.5" r="4.4" fill="#dd8a8a" fill-opacity="0.47" stroke="#262626" stroke-opacity="0.92" stroke-width="0.85"/>
<circle cx="592.6" cy="137.5" r="4.4" fill="#dd8a8a" fill-opacity="0.47" stroke="#262626" stroke-opacity="0.92" stroke-width="0.85"/>
<circle cx="595" cy="133.6" r="4.4" fill="#dd8a8a" fill-opacity="0.47" stroke="#262626" stroke-opacity="0.92" stroke-width="0.85"/>
<circle cx="597" cy="134.8" r="4.4" fill="#dd8a8a" fill-opacity="0.47" stroke="#262626" stroke-opacity="0.92" stroke-width="0.85"/>
<circle cx="600.7" cy="131.1" r="4.4" fill="#dd8a8a" fill-opacity="0.47" stroke="#262626" stroke-opacity="0.92" stroke-width="0.85"/>
<circle cx="642.5" cy="90.1" r="4.4" fill="#dd8a8a" fill-opacity="0.47" stroke="#262626" stroke-opacity="0.92" stroke-width="0.85"/>
<circle cx="669.3" cy="72.4" r="4.4" fill="#dd8a8a" fill-opacity="0.47" stroke="#262626" stroke-opacity="0.92" stroke-width="0.85"/>
<circle cx="684.3" cy="56.4" r="4.4" fill="#dd8a8a" fill-opacity="0.47" stroke="#262626" stroke-opacity="0.92" stroke-width="0.85"/>
<circle cx="708.1" cy="35.5" r="4.4" fill="#dd8a8a" fill-opacity="0.47" stroke="#262626" stroke-opacity="0.92" stroke-width="0.85"/>
<line x1="436.5" y1="262.68" x2="698.8" y2="32.3" stroke="#dc3c55" stroke-width="1.05" stroke-dasharray="1 1"/>
<line x1="450.31" y1="274.8" x2="712.6" y2="44.43" stroke="#b8606a" stroke-width="1.0" stroke-dasharray="1 1"/>
<text x="428.5" y="277.8" text-anchor="end" font-family='"Liberation Sans", sans-serif' font-weight="bold" font-size="8.3" fill="#111" stroke="#111" stroke-width="0.15">0</text>
<text x="428.5" y="253.55" text-anchor="end" font-family='"Liberation Sans", sans-serif' font-weight="bold" font-size="8.3" fill="#111" stroke="#111" stroke-width="0.15">10</text>
<text x="428.5" y="229.3" text-anchor="end" font-family='"Liberation Sans", sans-serif' font-weight="bold" font-size="8.3" fill="#111" stroke="#111" stroke-width="0.15">20</text>
<text x="428.5" y="205.05" text-anchor="end" font-family='"Liberation Sans", sans-serif' font-weight="bold" font-size="8.3" fill="#111" stroke="#111" stroke-width="0.15">30</text>
<text x="428.5" y="180.8" text-anchor="end" font-family='"Liberation Sans", sans-serif' font-weight="bold" font-size="8.3" fill="#111" stroke="#111" stroke-width="0.15">40</text>
<text x="428.5" y="156.55" text-anchor="end" font-family='"Liberation Sans", sans-serif' font-weight="bold" font-size="8.3" fill="#111" stroke="#111" stroke-width="0.15">50</text>
<text x="428.5" y="132.3" text-anchor="end" font-family='"Liberation Sans", sans-serif' font-weight="bold" font-size="8.3" fill="#111" stroke="#111" stroke-width="0.15">60</text>
<text x="428.5" y="108.05" text-anchor="end" font-family='"Liberation Sans", sans-serif' font-weight="bold" font-size="8.3" fill="#111" stroke="#111" stroke-width="0.15">70</text>
<text x="428.5" y="83.8" text-anchor="end" font-family='"Liberation Sans", sans-serif' font-weight="bold" font-size="8.3" fill="#111" stroke="#111" stroke-width="0.15">80</text>
<text x="428.5" y="59.55" text-anchor="end" font-family='"Liberation Sans", sans-serif' font-weight="bold" font-size="8.3" fill="#111" stroke="#111" stroke-width="0.15">90</text>
<text x="428.5" y="35.3" text-anchor="end" font-family='"Liberation Sans", sans-serif' font-weight="bold" font-size="8.3" fill="#111" stroke="#111" stroke-width="0.15">100</text>
<text x="436.5" y="288.2" text-anchor="middle" font-family='"Liberation Sans", sans-serif' font-weight="bold" font-size="8.3" fill="#111" stroke="#111" stroke-width="0.15">0</text>
<text x="491.72" y="288.2" text-anchor="middle" font-family='"Liberation Sans", sans-serif' font-weight="bold" font-size="8.3" fill="#111" stroke="#111" stroke-width="0.15">20</text>
<text x="546.94" y="288.2" text-anchor="middle" font-family='"Liberation Sans", sans-serif' font-weight="bold" font-size="8.3" fill="#111" stroke="#111" stroke-width="0.15">40</text>
<text x="602.16" y="288.2" text-anchor="middle" font-family='"Liberation Sans", sans-serif' font-weight="bold" font-size="8.3" fill="#111" stroke="#111" stroke-width="0.15">60</text>
<text x="657.38" y="288.2" text-anchor="middle" font-family='"Liberation Sans", sans-serif' font-weight="bold" font-size="8.3" fill="#111" stroke="#111" stroke-width="0.15">80</text>
<text x="712.6" y="288.2" text-anchor="middle" font-family='"Liberation Sans", sans-serif' font-weight="bold" font-size="8.3" fill="#111" stroke="#111" stroke-width="0.15">100</text>
<text x="567.3" y="301.7" font-family='"Liberation Sans", sans-serif' font-weight="bold" font-size="8.5" fill="#111" stroke="#111" stroke-width="0.15" textLength="17.6" lengthAdjust="spacingAndGlyphs">True</text>
<text transform="translate(409.9,143.2) rotate(-90)" text-anchor="middle" font-family='"Liberation Sans", sans-serif' font-weight="bold" font-size="8.5" fill="#111" stroke="#111" stroke-width="0.15" textLength="39.7" lengthAdjust="spacingAndGlyphs">Predicted</text>
<rect x="436.6" y="366.3" width="276" height="241" fill="#f1f1f1" stroke="#e2e2e2" stroke-width="1"/>
<line x1="491.8" y1="366.3" x2="491.8" y2="607.3" stroke="#e1e1e1" stroke-width="0.9"/>
<line x1="547" y1="366.3" x2="547" y2="607.3" stroke="#e1e1e1" stroke-width="0.9"/>
<line x1="602.2" y1="366.3" x2="602.2" y2="607.3" stroke="#e1e1e1" stroke-width="0.9"/>
<line x1="657.4" y1="366.3" x2="657.4" y2="607.3" stroke="#e1e1e1" stroke-width="0.9"/>
<line x1="436.6" y1="583.2" x2="712.6" y2="583.2" stroke="#e1e1e1" stroke-width="0.9"/>
<line x1="436.6" y1="559.1" x2="712.6" y2="559.1" stroke="#e1e1e1" stroke-width="0.9"/>
<line x1="436.6" y1="535" x2="712.6" y2="535" stroke="#e1e1e1" stroke-width="0.9"/>
<line x1="436.6" y1="510.9" x2="712.6" y2="510.9" stroke="#e1e1e1" stroke-width="0.9"/>
<line x1="436.6" y1="486.8" x2="712.6" y2="486.8" stroke="#e1e1e1" stroke-width="0.9"/>
<line x1="436.6" y1="462.7" x2="712.6" y2="462.7" stroke="#e1e1e1" stroke-width="0.9"/>
<line x1="436.6" y1="438.6" x2="712.6" y2="438.6" stroke="#e1e1e1" stroke-width="0.9"/>
<line x1="436.6" y1="414.5" x2="712.6" y2="414.5" stroke="#e1e1e1" stroke-width="0.9"/>
<line x1="436.6" y1="390.4" x2="712.6" y2="390.4" stroke="#e1e1e1" stroke-width="0.9"/>
<line x1="436.6" y1="607.3" x2="712.6" y2="607.3" stroke="#767676" stroke-width="1.05"/>
<line x1="436.6" y1="366.3" x2="436.6" y2="607.3" stroke="#767676" stroke-width="1.05"/>
<line x1="436.6" y1="607.3" x2="436.6" y2="604.8" stroke="#767676" stroke-width="1"/>
<line x1="491.8" y1="607.3" x2="491.8" y2="604.8" stroke="#767676" stroke-width="1"/>
<line x1="547" y1="607.3" x2="547" y2="604.8" stroke="#767676" stroke-width="1"/>
<line x1="602.2" y1="607.3" x2="602.2" y2="604.8" stroke="#767676" stroke-width="1"/>
<line x1="657.4" y1="607.3" x2="657.4" y2="604.8" stroke="#767676" stroke-width="1"/>
<line x1="712.6" y1="607.3" x2="712.6" y2="604.8" stroke="#767676" stroke-width="1"/>
<line x1="436.6" y1="607.3" x2="439.1" y2="607.3" stroke="#767676" stroke-width="1"/>
<line x1="436.6" y1="583.2" x2="439.1" y2="583.2" stroke="#767676" stroke-width="1"/>
<line x1="436.6" y1="559.1" x2="439.1" y2="559.1" stroke="#767676" stroke-width="1"/>
<line x1="436.6" y1="535" x2="439.1" y2="535" stroke="#767676" stroke-width="1"/>
<line x1="436.6" y1="510.9" x2="439.1" y2="510.9" stroke="#767676" stroke-width="1"/>
<line x1="436.6" y1="486.8" x2="439.1" y2="486.8" stroke="#767676" stroke-width="1"/>
<line x1="436.6" y1="462.7" x2="439.1" y2="462.7" stroke="#767676" stroke-width="1"/>
<line x1="436.6" y1="438.6" x2="439.1" y2="438.6" stroke="#767676" stroke-width="1"/>
<line x1="436.6" y1="414.5" x2="439.1" y2="414.5" stroke="#767676" stroke-width="1"/>
<line x1="436.6" y1="390.4" x2="439.1" y2="390.4" stroke="#767676" stroke-width="1"/>
<line x1="436.6" y1="366.3" x2="439.1" y2="366.3" stroke="#767676" stroke-width="1"/>
<circle cx="709.36" cy="369.26" r="4.4" fill="#dd8a8a" fill-opacity="0.47" stroke="#262626" stroke-opacity="0.92" stroke-width="0.85"/>
<circle cx="642.23" cy="425.57" r="4.4" fill="#dd8a8a" fill-opacity="0.47" stroke="#262626" stroke-opacity="0.92" stroke-width="0.85"/>
<circle cx="639.28" cy="436.15" r="4.4" fill="#dd8a8a" fill-opacity="0.47" stroke="#262626" stroke-opacity="0.92" stroke-width="0.85"/>
<circle cx="637.56" cy="438.11" r="4.4" fill="#dd8a8a" fill-opacity="0.47" stroke="#262626" stroke-opacity="0.92" stroke-width="0.85"/>
<circle cx="593.3" cy="467.62" r="4.4" fill="#dd8a8a" fill-opacity="0.47" stroke="#262626" stroke-opacity="0.92" stroke-width="0.85"/>
<circle cx="581.49" cy="479.92" r="4.4" fill="#dd8a8a" fill-opacity="0.47" stroke="#262626" stroke-opacity="0.92" stroke-width="0.85"/>
<circle cx="585.18" cy="480.41" r="4.4" fill="#dd8a8a" fill-opacity="0.47" stroke="#262626" stroke-opacity="0.92" stroke-width="0.85"/>
<circle cx="586.41" cy="479.18" r="4.4" fill="#dd8a8a" fill-opacity="0.47" stroke="#262626" stroke-opacity="0.92" stroke-width="0.85"/>
<circle cx="565.02" cy="491.48" r="4.4" fill="#dd8a8a" fill-opacity="0.47" stroke="#262626" stroke-opacity="0.92" stroke-width="0.85"/>
<circle cx="544.69" cy="503.93" r="4.4" fill="#dd8a8a" fill-opacity="0.47" stroke="#262626" stroke-opacity="0.92" stroke-width="0.85"/>
<circle cx="550.26" cy="504.75" r="4.4" fill="#dd8a8a" fill-opacity="0.47" stroke="#262626" stroke-opacity="0.92" stroke-width="0.85"/>
<circle cx="543.87" cy="511.31" r="4.4" fill="#dd8a8a" fill-opacity="0.47" stroke="#262626" stroke-opacity="0.92" stroke-width="0.85"/>
<circle cx="539.28" cy="518.2" r="4.4" fill="#dd8a8a" fill-opacity="0.47" stroke="#262626" stroke-opacity="0.92" stroke-width="0.85"/>
<circle cx="533.05" cy="519.18" r="4.4" fill="#dd8a8a" fill-opacity="0.47" stroke="#262626" stroke-opacity="0.92" stroke-width="0.85"/>
<circle cx="494.2" cy="556.39" r="4.4" fill="#dd8a8a" fill-opacity="0.47" stroke="#262626" stroke-opacity="0.92" stroke-width="0.85"/>
<circle cx="490.92" cy="559.67" r="4.4" fill="#dd8a8a" fill-opacity="0.47" stroke="#262626" stroke-opacity="0.92" stroke-width="0.85"/>
<circle cx="486.82" cy="562.13" r="4.4" fill="#dd8a8a" fill-opacity="0.47" stroke="#262626" stroke-opacity="0.92" stroke-width="0.85"/>
<circle cx="484.36" cy="564.59" r="4.4" fill="#dd8a8a" fill-opacity="0.47" stroke="#262626" stroke-opacity="0.92" stroke-width="0.85"/>
<circle cx="476.16" cy="564.59" r="4.4" fill="#dd8a8a" fill-opacity="0.47" stroke="#262626" stroke-opacity="0.92" stroke-width="0.85"/>
<circle cx="478.62" cy="568.69" r="4.4" fill="#dd8a8a" fill-opacity="0.47" stroke="#262626" stroke-opacity="0.92" stroke-width="0.85"/>
<circle cx="473.7" cy="575.25" r="4.4" fill="#dd8a8a" fill-opacity="0.47" stroke="#262626" stroke-opacity="0.92" stroke-width="0.85"/>
<circle cx="467.15" cy="576.89" r="4.4" fill="#dd8a8a" fill-opacity="0.47" stroke="#262626" stroke-opacity="0.92" stroke-width="0.85"/>
<circle cx="466.33" cy="579.34" r="4.4" fill="#dd8a8a" fill-opacity="0.47" stroke="#262626" stroke-opacity="0.92" stroke-width="0.85"/>
<circle cx="461.41" cy="583.44" r="4.4" fill="#dd8a8a" fill-opacity="0.47" stroke="#262626" stroke-opacity="0.92" stroke-width="0.85"/>
<circle cx="464.69" cy="586.72" r="4.4" fill="#dd8a8a" fill-opacity="0.47" stroke="#262626" stroke-opacity="0.92" stroke-width="0.85"/>
<circle cx="458.95" cy="589.18" r="4.4" fill="#dd8a8a" fill-opacity="0.47" stroke="#262626" stroke-opacity="0.92" stroke-width="0.85"/>
<circle cx="455.67" cy="590.82" r="4.4" fill="#dd8a8a" fill-opacity="0.47" stroke="#262626" stroke-opacity="0.92" stroke-width="0.85"/>
<circle cx="452.39" cy="592.46" r="4.4" fill="#dd8a8a" fill-opacity="0.47" stroke="#262626" stroke-opacity="0.92" stroke-width="0.85"/>
<circle cx="449.93" cy="594.92" r="4.4" fill="#dd8a8a" fill-opacity="0.47" stroke="#262626" stroke-opacity="0.92" stroke-width="0.85"/>
<circle cx="448.3" cy="595.74" r="4.4" fill="#dd8a8a" fill-opacity="0.47" stroke="#262626" stroke-opacity="0.92" stroke-width="0.85"/>
<circle cx="450.75" cy="596.56" r="4.4" fill="#dd8a8a" fill-opacity="0.47" stroke="#262626" stroke-opacity="0.92" stroke-width="0.85"/>
<circle cx="454.03" cy="594.1" r="4.4" fill="#dd8a8a" fill-opacity="0.47" stroke="#262626" stroke-opacity="0.92" stroke-width="0.85"/>
<circle cx="470.43" cy="575.25" r="4.4" fill="#dd8a8a" fill-opacity="0.47" stroke="#262626" stroke-opacity="0.92" stroke-width="0.85"/>
<circle cx="481.08" cy="567.05" r="4.4" fill="#dd8a8a" fill-opacity="0.47" stroke="#262626" stroke-opacity="0.92" stroke-width="0.85"/>
<circle cx="488.46" cy="563.77" r="4.4" fill="#dd8a8a" fill-opacity="0.47" stroke="#262626" stroke-opacity="0.92" stroke-width="0.85"/>
<circle cx="483.54" cy="567.05" r="4.4" fill="#dd8a8a" fill-opacity="0.47" stroke="#262626" stroke-opacity="0.92" stroke-width="0.85"/>
<circle cx="492.56" cy="558.85" r="4.4" fill="#dd8a8a" fill-opacity="0.47" stroke="#262626" stroke-opacity="0.92" stroke-width="0.85"/>
<circle cx="457.31" cy="592.46" r="4.4" fill="#dd8a8a" fill-opacity="0.47" stroke="#262626" stroke-opacity="0.92" stroke-width="0.85"/>
<circle cx="447.48" cy="594.92" r="4.4" fill="#dd8a8a" fill-opacity="0.47" stroke="#262626" stroke-opacity="0.92" stroke-width="0.85"/>
<circle cx="451.57" cy="597.38" r="4.4" fill="#dd8a8a" fill-opacity="0.47" stroke="#262626" stroke-opacity="0.92" stroke-width="0.85"/>
<circle cx="463.05" cy="583.44" r="4.4" fill="#dd8a8a" fill-opacity="0.47" stroke="#262626" stroke-opacity="0.92" stroke-width="0.85"/>
<line x1="436.6" y1="595.25" x2="698.8" y2="366.3" stroke="#dc3c55" stroke-width="1.05" stroke-dasharray="1 1"/>
<line x1="450.4" y1="607.3" x2="712.6" y2="378.35" stroke="#b8606a" stroke-width="1.0" stroke-dasharray="1 1"/>
<text x="428.6" y="610.3" text-anchor="end" font-family='"Liberation Sans", sans-serif' font-weight="bold" font-size="8.3" fill="#111" stroke="#111" stroke-width="0.15">0</text>
<text x="428.6" y="586.2" text-anchor="end" font-family='"Liberation Sans", sans-serif' font-weight="bold" font-size="8.3" fill="#111" stroke="#111" stroke-width="0.15">10</text>
<text x="428.6" y="562.1" text-anchor="end" font-family='"Liberation Sans", sans-serif' font-weight="bold" font-size="8.3" fill="#111" stroke="#111" stroke-width="0.15">20</text>
<text x="428.6" y="538" text-anchor="end" font-family='"Liberation Sans", sans-serif' font-weight="bold" font-size="8.3" fill="#111" stroke="#111" stroke-width="0.15">30</text>
<text x="428.6" y="513.9" text-anchor="end" font-family='"Liberation Sans", sans-serif' font-weight="bold" font-size="8.3" fill="#111" stroke="#111" stroke-width="0.15">40</text>
<text x="428.6" y="489.8" text-anchor="end" font-family='"Liberation Sans", sans-serif' font-weight="bold" font-size="8.3" fill="#111" stroke="#111" stroke-width="0.15">50</text>
<text x="428.6" y="465.7" text-anchor="end" font-family='"Liberation Sans", sans-serif' font-weight="bold" font-size="8.3" fill="#111" stroke="#111" stroke-width="0.15">60</text>
<text x="428.6" y="441.6" text-anchor="end" font-family='"Liberation Sans", sans-serif' font-weight="bold" font-size="8.3" fill="#111" stroke="#111" stroke-width="0.15">70</text>
<text x="428.6" y="417.5" text-anchor="end" font-family='"Liberation Sans", sans-serif' font-weight="bold" font-size="8.3" fill="#111" stroke="#111" stroke-width="0.15">80</text>
<text x="428.6" y="393.4" text-anchor="end" font-family='"Liberation Sans", sans-serif' font-weight="bold" font-size="8.3" fill="#111" stroke="#111" stroke-width="0.15">90</text>
<text x="428.6" y="369.3" text-anchor="end" font-family='"Liberation Sans", sans-serif' font-weight="bold" font-size="8.3" fill="#111" stroke="#111" stroke-width="0.15">100</text>
<text x="436.6" y="620.7" text-anchor="middle" font-family='"Liberation Sans", sans-serif' font-weight="bold" font-size="8.3" fill="#111" stroke="#111" stroke-width="0.15">0</text>
<text x="491.8" y="620.7" text-anchor="middle" font-family='"Liberation Sans", sans-serif' font-weight="bold" font-size="8.3" fill="#111" stroke="#111" stroke-width="0.15">20</text>
<text x="547" y="620.7" text-anchor="middle" font-family='"Liberation Sans", sans-serif' font-weight="bold" font-size="8.3" fill="#111" stroke="#111" stroke-width="0.15">40</text>
<text x="602.2" y="620.7" text-anchor="middle" font-family='"Liberation Sans", sans-serif' font-weight="bold" font-size="8.3" fill="#111" stroke="#111" stroke-width="0.15">60</text>
<text x="657.4" y="620.7" text-anchor="middle" font-family='"Liberation Sans", sans-serif' font-weight="bold" font-size="8.3" fill="#111" stroke="#111" stroke-width="0.15">80</text>
<text x="712.6" y="620.7" text-anchor="middle" font-family='"Liberation Sans", sans-serif' font-weight="bold" font-size="8.3" fill="#111" stroke="#111" stroke-width="0.15">100</text>
<text x="567.2" y="633.7" font-family='"Liberation Sans", sans-serif' font-weight="bold" font-size="8.5" fill="#111" stroke="#111" stroke-width="0.15" textLength="17.6" lengthAdjust="spacingAndGlyphs">True</text>
<text transform="translate(409.1,477.2) rotate(-90)" text-anchor="middle" font-family='"Liberation Sans", sans-serif' font-weight="bold" font-size="8.5" fill="#111" stroke="#111" stroke-width="0.15" textLength="39.7" lengthAdjust="spacingAndGlyphs">Predicted</text>
<rect x="437.5" y="694.3" width="275.1" height="240" fill="#f1f1f1" stroke="#e2e2e2" stroke-width="1"/>
<line x1="492.52" y1="694.3" x2="492.52" y2="934.3" stroke="#e1e1e1" stroke-width="0.9"/>
<line x1="547.54" y1="694.3" x2="547.54" y2="934.3" stroke="#e1e1e1" stroke-width="0.9"/>
<line x1="602.56" y1="694.3" x2="602.56" y2="934.3" stroke="#e1e1e1" stroke-width="0.9"/>
<line x1="657.58" y1="694.3" x2="657.58" y2="934.3" stroke="#e1e1e1" stroke-width="0.9"/>
<line x1="437.5" y1="910.3" x2="712.6" y2="910.3" stroke="#e1e1e1" stroke-width="0.9"/>
<line x1="437.5" y1="886.3" x2="712.6" y2="886.3" stroke="#e1e1e1" stroke-width="0.9"/>
<line x1="437.5" y1="862.3" x2="712.6" y2="862.3" stroke="#e1e1e1" stroke-width="0.9"/>
<line x1="437.5" y1="838.3" x2="712.6" y2="838.3" stroke="#e1e1e1" stroke-width="0.9"/>
<line x1="437.5" y1="814.3" x2="712.6" y2="814.3" stroke="#e1e1e1" stroke-width="0.9"/>
<line x1="437.5" y1="790.3" x2="712.6" y2="790.3" stroke="#e1e1e1" stroke-width="0.9"/>
<line x1="437.5" y1="766.3" x2="712.6" y2="766.3" stroke="#e1e1e1" stroke-width="0.9"/>
<line x1="437.5" y1="742.3" x2="712.6" y2="742.3" stroke="#e1e1e1" stroke-width="0.9"/>
<line x1="437.5" y1="718.3" x2="712.6" y2="718.3" stroke="#e1e1e1" stroke-width="0.9"/>
<line x1="437.5" y1="934.3" x2="712.6" y2="934.3" stroke="#767676" stroke-width="1.05"/>
<line x1="437.5" y1="694.3" x2="437.5" y2="934.3" stroke="#767676" stroke-width="1.05"/>
<line x1="437.5" y1="934.3" x2="437.5" y2="931.8" stroke="#767676" stroke-width="1"/>
<line x1="492.52" y1="934.3" x2="492.52" y2="931.8" stroke="#767676" stroke-width="1"/>
<line x1="547.54" y1="934.3" x2="547.54" y2="931.8" stroke="#767676" stroke-width="1"/>
<line x1="602.56" y1="934.3" x2="602.56" y2="931.8" stroke="#767676" stroke-width="1"/>
<line x1="657.58" y1="934.3" x2="657.58" y2="931.8" stroke="#767676" stroke-width="1"/>
<line x1="712.6" y1="934.3" x2="712.6" y2="931.8" stroke="#767676" stroke-width="1"/>
<line x1="437.5" y1="934.3" x2="440" y2="934.3" stroke="#767676" stroke-width="1"/>
<line x1="437.5" y1="910.3" x2="440" y2="910.3" stroke="#767676" stroke-width="1"/>
<line x1="437.5" y1="886.3" x2="440" y2="886.3" stroke="#767676" stroke-width="1"/>
<line x1="437.5" y1="862.3" x2="440" y2="862.3" stroke="#767676" stroke-width="1"/>
<line x1="437.5" y1="838.3" x2="440" y2="838.3" stroke="#767676" stroke-width="1"/>
<line x1="437.5" y1="814.3" x2="440" y2="814.3" stroke="#767676" stroke-width="1"/>
<line x1="437.5" y1="790.3" x2="440" y2="790.3" stroke="#767676" stroke-width="1"/>
<line x1="437.5" y1="766.3" x2="440" y2="766.3" stroke="#767676" stroke-width="1"/>
<line x1="437.5" y1="742.3" x2="440" y2="742.3" stroke="#767676" stroke-width="1"/>
<line x1="437.5" y1="718.3" x2="440" y2="718.3" stroke="#767676" stroke-width="1"/>
<line x1="437.5" y1="694.3" x2="440" y2="694.3" stroke="#767676" stroke-width="1"/>
<circle cx="467.69" cy="912.4" r="4.4" fill="#dd8a8a" fill-opacity="0.47" stroke="#262626" stroke-opacity="0.92" stroke-width="0.85"/>
<circle cx="489.28" cy="898.06" r="4.4" fill="#dd8a8a" fill-opacity="0.47" stroke="#262626" stroke-opacity="0.92" stroke-width="0.85"/>
<circle cx="499.93" cy="885.77" r="4.4" fill="#dd8a8a" fill-opacity="0.47" stroke="#262626" stroke-opacity="0.92" stroke-width="0.85"/>
<circle cx="503.62" cy="880.98" r="4.4" fill="#dd8a8a" fill-opacity="0.47" stroke="#262626" stroke-opacity="0.92" stroke-width="0.85"/>
<circle cx="502.26" cy="883.03" r="4.4" fill="#dd8a8a" fill-opacity="0.47" stroke="#262626" stroke-opacity="0.92" stroke-width="0.85"/>
<circle cx="527.53" cy="862.13" r="4.4" fill="#dd8a8a" fill-opacity="0.47" stroke="#262626" stroke-opacity="0.92" stroke-width="0.85"/>
<circle cx="535.04" cy="864.59" r="4.4" fill="#dd8a8a" fill-opacity="0.47" stroke="#262626" stroke-opacity="0.92" stroke-width="0.85"/>
<circle cx="590.98" cy="793.28" r="4.4" fill="#dd8a8a" fill-opacity="0.47" stroke="#262626" stroke-opacity="0.92" stroke-width="0.85"/>
<circle cx="589.34" cy="802.3" r="4.4" fill="#dd8a8a" fill-opacity="0.47" stroke="#262626" stroke-opacity="0.92" stroke-width="0.85"/>
<circle cx="586.89" cy="805.57" r="4.4" fill="#dd8a8a" fill-opacity="0.47" stroke="#262626" stroke-opacity="0.92" stroke-width="0.85"/>
<circle cx="584.43" cy="809.67" r="4.4" fill="#dd8a8a" fill-opacity="0.47" stroke="#262626" stroke-opacity="0.92" stroke-width="0.85"/>
<circle cx="583.61" cy="812.95" r="4.4" fill="#dd8a8a" fill-opacity="0.47" stroke="#262626" stroke-opacity="0.92" stroke-width="0.85"/>
<circle cx="585.25" cy="815.41" r="4.4" fill="#dd8a8a" fill-opacity="0.47" stroke="#262626" stroke-opacity="0.92" stroke-width="0.85"/>
<circle cx="591.8" cy="806.39" r="4.4" fill="#dd8a8a" fill-opacity="0.47" stroke="#262626" stroke-opacity="0.92" stroke-width="0.85"/>
<circle cx="594.26" cy="808.85" r="4.4" fill="#dd8a8a" fill-opacity="0.47" stroke="#262626" stroke-opacity="0.92" stroke-width="0.85"/>
<circle cx="596.72" cy="812.13" r="4.4" fill="#dd8a8a" fill-opacity="0.47" stroke="#262626" stroke-opacity="0.92" stroke-width="0.85"/>
<circle cx="595.9" cy="815.41" r="4.4" fill="#dd8a8a" fill-opacity="0.47" stroke="#262626" stroke-opacity="0.92" stroke-width="0.85"/>
<circle cx="593.44" cy="817.87" r="4.4" fill="#dd8a8a" fill-opacity="0.47" stroke="#262626" stroke-opacity="0.92" stroke-width="0.85"/>
<circle cx="591.8" cy="820.33" r="4.4" fill="#dd8a8a" fill-opacity="0.47" stroke="#262626" stroke-opacity="0.92" stroke-width="0.85"/>
<circle cx="594.26" cy="821.97" r="4.4" fill="#dd8a8a" fill-opacity="0.47" stroke="#262626" stroke-opacity="0.92" stroke-width="0.85"/>
<circle cx="583.61" cy="820.33" r="4.4" fill="#dd8a8a" fill-opacity="0.47" stroke="#262626" stroke-opacity="0.92" stroke-width="0.85"/>
<circle cx="582.79" cy="824.43" r="4.4" fill="#dd8a8a" fill-opacity="0.47" stroke="#262626" stroke-opacity="0.92" stroke-width="0.85"/>
<circle cx="573.77" cy="826.89" r="4.4" fill="#dd8a8a" fill-opacity="0.47" stroke="#262626" stroke-opacity="0.92" stroke-width="0.85"/>
<circle cx="616.39" cy="800.66" r="4.4" fill="#dd8a8a" fill-opacity="0.47" stroke="#262626" stroke-opacity="0.92" stroke-width="0.85"/>
<circle cx="618.85" cy="799.84" r="4.4" fill="#dd8a8a" fill-opacity="0.47" stroke="#262626" stroke-opacity="0.92" stroke-width="0.85"/>
<circle cx="550.82" cy="845.74" r="4.4" fill="#dd8a8a" fill-opacity="0.47" stroke="#262626" stroke-opacity="0.92" stroke-width="0.85"/>
<circle cx="554.1" cy="849.84" r="4.4" fill="#dd8a8a" fill-opacity="0.47" stroke="#262626" stroke-opacity="0.92" stroke-width="0.85"/>
<circle cx="552.46" cy="851.48" r="4.4" fill="#dd8a8a" fill-opacity="0.47" stroke="#262626" stroke-opacity="0.92" stroke-width="0.85"/>
<circle cx="549.18" cy="853.11" r="4.4" fill="#dd8a8a" fill-opacity="0.47" stroke="#262626" stroke-opacity="0.92" stroke-width="0.85"/>
<circle cx="548.36" cy="855.57" r="4.4" fill="#dd8a8a" fill-opacity="0.47" stroke="#262626" stroke-opacity="0.92" stroke-width="0.85"/>
<circle cx="545.08" cy="849.84" r="4.4" fill="#dd8a8a" fill-opacity="0.47" stroke="#262626" stroke-opacity="0.92" stroke-width="0.85"/>
<circle cx="540.98" cy="849.02" r="4.4" fill="#dd8a8a" fill-opacity="0.47" stroke="#262626" stroke-opacity="0.92" stroke-width="0.85"/>
<circle cx="539.34" cy="853.11" r="4.4" fill="#dd8a8a" fill-opacity="0.47" stroke="#262626" stroke-opacity="0.92" stroke-width="0.85"/>
<circle cx="536.89" cy="852.3" r="4.4" fill="#dd8a8a" fill-opacity="0.47" stroke="#262626" stroke-opacity="0.92" stroke-width="0.85"/>
<circle cx="541.8" cy="854.75" r="4.4" fill="#dd8a8a" fill-opacity="0.47" stroke="#262626" stroke-opacity="0.92" stroke-width="0.85"/>
<circle cx="538.52" cy="856.39" r="4.4" fill="#dd8a8a" fill-opacity="0.47" stroke="#262626" stroke-opacity="0.92" stroke-width="0.85"/>
<circle cx="706.95" cy="704.1" r="4.4" fill="#dd8a8a" fill-opacity="0.47" stroke="#262626" stroke-opacity="0.92" stroke-width="0.85"/>
<circle cx="705.19" cy="708.8" r="4.4" fill="#dd8a8a" fill-opacity="0.47" stroke="#262626" stroke-opacity="0.92" stroke-width="0.85"/>
<circle cx="703.43" cy="711.15" r="4.4" fill="#dd8a8a" fill-opacity="0.47" stroke="#262626" stroke-opacity="0.92" stroke-width="0.85"/>
<circle cx="701.67" cy="709.39" r="4.4" fill="#dd8a8a" fill-opacity="0.47" stroke="#262626" stroke-opacity="0.92" stroke-width="0.85"/>
<circle cx="704.02" cy="713.5" r="4.4" fill="#dd8a8a" fill-opacity="0.47" stroke="#262626" stroke-opacity="0.92" stroke-width="0.85"/>
<circle cx="702.25" cy="717.02" r="4.4" fill="#dd8a8a" fill-opacity="0.47" stroke="#262626" stroke-opacity="0.92" stroke-width="0.85"/>
<circle cx="698.14" cy="710.56" r="4.4" fill="#dd8a8a" fill-opacity="0.47" stroke="#262626" stroke-opacity="0.92" stroke-width="0.85"/>
<circle cx="694.62" cy="712.32" r="4.4" fill="#dd8a8a" fill-opacity="0.47" stroke="#262626" stroke-opacity="0.92" stroke-width="0.85"/>
<circle cx="692.27" cy="715.85" r="4.4" fill="#dd8a8a" fill-opacity="0.47" stroke="#262626" stroke-opacity="0.92" stroke-width="0.85"/>
<circle cx="688.74" cy="716.43" r="4.4" fill="#dd8a8a" fill-opacity="0.47" stroke="#262626" stroke-opacity="0.92" stroke-width="0.85"/>
<circle cx="683.46" cy="717.61" r="4.4" fill="#dd8a8a" fill-opacity="0.47" stroke="#262626" stroke-opacity="0.92" stroke-width="0.85"/>
<circle cx="694.03" cy="720.55" r="4.4" fill="#dd8a8a" fill-opacity="0.47" stroke="#262626" stroke-opacity="0.92" stroke-width="0.85"/>
<circle cx="692.27" cy="722.9" r="4.4" fill="#dd8a8a" fill-opacity="0.47" stroke="#262626" stroke-opacity="0.92" stroke-width="0.85"/>
<circle cx="696.97" cy="721.13" r="4.4" fill="#dd8a8a" fill-opacity="0.47" stroke="#262626" stroke-opacity="0.92" stroke-width="0.85"/>
<circle cx="696.38" cy="727.01" r="4.4" fill="#dd8a8a" fill-opacity="0.47" stroke="#262626" stroke-opacity="0.92" stroke-width="0.85"/>
<circle cx="688.74" cy="725.25" r="4.4" fill="#dd8a8a" fill-opacity="0.47" stroke="#262626" stroke-opacity="0.92" stroke-width="0.85"/>
<circle cx="686.98" cy="729.36" r="4.4" fill="#dd8a8a" fill-opacity="0.47" stroke="#262626" stroke-opacity="0.92" stroke-width="0.85"/>
<circle cx="686.39" cy="726.42" r="4.4" fill="#dd8a8a" fill-opacity="0.47" stroke="#262626" stroke-opacity="0.92" stroke-width="0.85"/>
<circle cx="678.76" cy="721.72" r="4.4" fill="#dd8a8a" fill-opacity="0.47" stroke="#262626" stroke-opacity="0.92" stroke-width="0.85"/>
<circle cx="676.41" cy="718.2" r="4.4" fill="#dd8a8a" fill-opacity="0.47" stroke="#262626" stroke-opacity="0.92" stroke-width="0.85"/>
<circle cx="673.47" cy="717.61" r="4.4" fill="#dd8a8a" fill-opacity="0.47" stroke="#262626" stroke-opacity="0.92" stroke-width="0.85"/>
<circle cx="670.53" cy="718.78" r="4.4" fill="#dd8a8a" fill-opacity="0.47" stroke="#262626" stroke-opacity="0.92" stroke-width="0.85"/>
<circle cx="672.3" cy="722.9" r="4.4" fill="#dd8a8a" fill-opacity="0.47" stroke="#262626" stroke-opacity="0.92" stroke-width="0.85"/>
<circle cx="671.71" cy="726.42" r="4.4" fill="#dd8a8a" fill-opacity="0.47" stroke="#262626" stroke-opacity="0.92" stroke-width="0.85"/>
<circle cx="668.77" cy="725.25" r="4.4" fill="#dd8a8a" fill-opacity="0.47" stroke="#262626" stroke-opacity="0.92" stroke-width="0.85"/>
<circle cx="666.42" cy="727.01" r="4.4" fill="#dd8a8a" fill-opacity="0.47" stroke="#262626" stroke-opacity="0.92" stroke-width="0.85"/>
<circle cx="659.96" cy="724.66" r="4.4" fill="#dd8a8a" fill-opacity="0.47" stroke="#262626" stroke-opacity="0.92" stroke-width="0.85"/>
<circle cx="670.53" cy="735.23" r="4.4" fill="#dd8a8a" fill-opacity="0.47" stroke="#262626" stroke-opacity="0.92" stroke-width="0.85"/>
<circle cx="662.31" cy="737.58" r="4.4" fill="#dd8a8a" fill-opacity="0.47" stroke="#262626" stroke-opacity="0.92" stroke-width="0.85"/>
<circle cx="661.13" cy="740.52" r="4.4" fill="#dd8a8a" fill-opacity="0.47" stroke="#262626" stroke-opacity="0.92" stroke-width="0.85"/>
<circle cx="660.55" cy="744.04" r="4.4" fill="#dd8a8a" fill-opacity="0.47" stroke="#262626" stroke-opacity="0.92" stroke-width="0.85"/>
<circle cx="658.2" cy="736.99" r="4.4" fill="#dd8a8a" fill-opacity="0.47" stroke="#262626" stroke-opacity="0.92" stroke-width="0.85"/>
<circle cx="652.91" cy="735.82" r="4.4" fill="#dd8a8a" fill-opacity="0.47" stroke="#262626" stroke-opacity="0.92" stroke-width="0.85"/>
<circle cx="654.08" cy="742.87" r="4.4" fill="#dd8a8a" fill-opacity="0.47" stroke="#262626" stroke-opacity="0.92" stroke-width="0.85"/>
<circle cx="669.95" cy="745.22" r="4.4" fill="#dd8a8a" fill-opacity="0.47" stroke="#262626" stroke-opacity="0.92" stroke-width="0.85"/>
<circle cx="667.6" cy="751.09" r="4.4" fill="#dd8a8a" fill-opacity="0.47" stroke="#262626" stroke-opacity="0.92" stroke-width="0.85"/>
<circle cx="663.48" cy="749.92" r="4.4" fill="#dd8a8a" fill-opacity="0.47" stroke="#262626" stroke-opacity="0.92" stroke-width="0.85"/>
<circle cx="664.07" cy="755.79" r="4.4" fill="#dd8a8a" fill-opacity="0.47" stroke="#262626" stroke-opacity="0.92" stroke-width="0.85"/>
<circle cx="659.37" cy="756.97" r="4.4" fill="#dd8a8a" fill-opacity="0.47" stroke="#262626" stroke-opacity="0.92" stroke-width="0.85"/>
<circle cx="657.61" cy="761.67" r="4.4" fill="#dd8a8a" fill-opacity="0.47" stroke="#262626" stroke-opacity="0.92" stroke-width="0.85"/>
<circle cx="655.26" cy="764.02" r="4.4" fill="#dd8a8a" fill-opacity="0.47" stroke="#262626" stroke-opacity="0.92" stroke-width="0.85"/>
<circle cx="658.78" cy="760.49" r="4.4" fill="#dd8a8a" fill-opacity="0.47" stroke="#262626" stroke-opacity="0.92" stroke-width="0.85"/>
<circle cx="650.56" cy="752.27" r="4.4" fill="#dd8a8a" fill-opacity="0.47" stroke="#262626" stroke-opacity="0.92" stroke-width="0.85"/>
<circle cx="647.62" cy="753.44" r="4.4" fill="#dd8a8a" fill-opacity="0.47" stroke="#262626" stroke-opacity="0.92" stroke-width="0.85"/>
<circle cx="645.27" cy="755.79" r="4.4" fill="#dd8a8a" fill-opacity="0.47" stroke="#262626" stroke-opacity="0.92" stroke-width="0.85"/>
<circle cx="649.39" cy="760.49" r="4.4" fill="#dd8a8a" fill-opacity="0.47" stroke="#262626" stroke-opacity="0.92" stroke-width="0.85"/>
<circle cx="647.62" cy="764.02" r="4.4" fill="#dd8a8a" fill-opacity="0.47" stroke="#262626" stroke-opacity="0.92" stroke-width="0.85"/>
<circle cx="649.39" cy="767.54" r="4.4" fill="#dd8a8a" fill-opacity="0.47" stroke="#262626" stroke-opacity="0.92" stroke-width="0.85"/>
<circle cx="651.73" cy="769.89" r="4.4" fill="#dd8a8a" fill-opacity="0.47" stroke="#262626" stroke-opacity="0.92" stroke-width="0.85"/>
<circle cx="645.27" cy="765.19" r="4.4" fill="#dd8a8a" fill-opacity="0.47" stroke="#262626" stroke-opacity="0.92" stroke-width="0.85"/>
<circle cx="640.57" cy="757.55" r="4.4" fill="#dd8a8a" fill-opacity="0.47" stroke="#262626" stroke-opacity="0.92" stroke-width="0.85"/>
<circle cx="633.52" cy="756.38" r="4.4" fill="#dd8a8a" fill-opacity="0.47" stroke="#262626" stroke-opacity="0.92" stroke-width="0.85"/>
<circle cx="638.81" cy="765.19" r="4.4" fill="#dd8a8a" fill-opacity="0.47" stroke="#262626" stroke-opacity="0.92" stroke-width="0.85"/>
<circle cx="640.57" cy="771.07" r="4.4" fill="#dd8a8a" fill-opacity="0.47" stroke="#262626" stroke-opacity="0.92" stroke-width="0.85"/>
<circle cx="633.52" cy="774" r="4.4" fill="#dd8a8a" fill-opacity="0.47" stroke="#262626" stroke-opacity="0.92" stroke-width="0.85"/>
<circle cx="633.7" cy="778.3" r="4.4" fill="#dd8a8a" fill-opacity="0.47" stroke="#262626" stroke-opacity="0.92" stroke-width="0.85"/>
<circle cx="637" cy="783.7" r="4.4" fill="#dd8a8a" fill-opacity="0.47" stroke="#262626" stroke-opacity="0.92" stroke-width="0.85"/>
<circle cx="638.1" cy="788.1" r="4.4" fill="#dd8a8a" fill-opacity="0.47" stroke="#262626" stroke-opacity="0.92" stroke-width="0.85"/>
<circle cx="631.5" cy="776.1" r="4.4" fill="#dd8a8a" fill-opacity="0.47" stroke="#262626" stroke-opacity="0.92" stroke-width="0.85"/>
<circle cx="651.2" cy="769.5" r="4.4" fill="#dd8a8a" fill-opacity="0.47" stroke="#262626" stroke-opacity="0.92" stroke-width="0.85"/>
<circle cx="654.5" cy="776.1" r="4.4" fill="#dd8a8a" fill-opacity="0.47" stroke="#262626" stroke-opacity="0.92" stroke-width="0.85"/>
<circle cx="646.8" cy="779" r="4.4" fill="#dd8a8a" fill-opacity="0.47" stroke="#262626" stroke-opacity="0.92" stroke-width="0.85"/>
<circle cx="633.7" cy="774.43" r="4.4" fill="#dd8a8a" fill-opacity="0.47" stroke="#262626" stroke-opacity="0.92" stroke-width="0.85"/>
<circle cx="636.98" cy="778.52" r="4.4" fill="#dd8a8a" fill-opacity="0.47" stroke="#262626" stroke-opacity="0.92" stroke-width="0.85"/>
<circle cx="646.82" cy="778.52" r="4.4" fill="#dd8a8a" fill-opacity="0.47" stroke="#262626" stroke-opacity="0.92" stroke-width="0.85"/>
<circle cx="651.74" cy="779.34" r="4.4" fill="#dd8a8a" fill-opacity="0.47" stroke="#262626" stroke-opacity="0.92" stroke-width="0.85"/>
<circle cx="652.56" cy="776.07" r="4.4" fill="#dd8a8a" fill-opacity="0.47" stroke="#262626" stroke-opacity="0.92" stroke-width="0.85"/>
<circle cx="632.07" cy="780.98" r="4.4" fill="#dd8a8a" fill-opacity="0.47" stroke="#262626" stroke-opacity="0.92" stroke-width="0.85"/>
<circle cx="638.62" cy="781.8" r="4.4" fill="#dd8a8a" fill-opacity="0.47" stroke="#262626" stroke-opacity="0.92" stroke-width="0.85"/>
<circle cx="637.8" cy="786.72" r="4.4" fill="#dd8a8a" fill-opacity="0.47" stroke="#262626" stroke-opacity="0.92" stroke-width="0.85"/>
<circle cx="635.34" cy="788.36" r="4.4" fill="#dd8a8a" fill-opacity="0.47" stroke="#262626" stroke-opacity="0.92" stroke-width="0.85"/>
<circle cx="628.79" cy="790" r="4.4" fill="#dd8a8a" fill-opacity="0.47" stroke="#262626" stroke-opacity="0.92" stroke-width="0.85"/>
<circle cx="627.15" cy="793.28" r="4.4" fill="#dd8a8a" fill-opacity="0.47" stroke="#262626" stroke-opacity="0.92" stroke-width="0.85"/>
<circle cx="611.57" cy="785.9" r="4.4" fill="#dd8a8a" fill-opacity="0.47" stroke="#262626" stroke-opacity="0.92" stroke-width="0.85"/>
<circle cx="622.23" cy="798.2" r="4.4" fill="#dd8a8a" fill-opacity="0.47" stroke="#262626" stroke-opacity="0.92" stroke-width="0.85"/>
<circle cx="618.95" cy="799.84" r="4.4" fill="#dd8a8a" fill-opacity="0.47" stroke="#262626" stroke-opacity="0.92" stroke-width="0.85"/>
<circle cx="616.49" cy="801.48" r="4.4" fill="#dd8a8a" fill-opacity="0.47" stroke="#262626" stroke-opacity="0.92" stroke-width="0.85"/>
<circle cx="620.59" cy="800.66" r="4.4" fill="#dd8a8a" fill-opacity="0.47" stroke="#262626" stroke-opacity="0.92" stroke-width="0.85"/>
<line x1="437.5" y1="922.3" x2="698.85" y2="694.3" stroke="#dc3c55" stroke-width="1.05" stroke-dasharray="1 1"/>
<line x1="451.25" y1="934.3" x2="712.6" y2="706.3" stroke="#b8606a" stroke-width="1.0" stroke-dasharray="1 1"/>
<text x="429.5" y="937.3" text-anchor="end" font-family='"Liberation Sans", sans-serif' font-weight="bold" font-size="8.3" fill="#111" stroke="#111" stroke-width="0.15">0</text>
<text x="429.5" y="913.3" text-anchor="end" font-family='"Liberation Sans", sans-serif' font-weight="bold" font-size="8.3" fill="#111" stroke="#111" stroke-width="0.15">10</text>
<text x="429.5" y="889.3" text-anchor="end" font-family='"Liberation Sans", sans-serif' font-weight="bold" font-size="8.3" fill="#111" stroke="#111" stroke-width="0.15">20</text>
<text x="429.5" y="865.3" text-anchor="end" font-family='"Liberation Sans", sans-serif' font-weight="bold" font-size="8.3" fill="#111" stroke="#111" stroke-width="0.15">30</text>
<text x="429.5" y="841.3" text-anchor="end" font-family='"Liberation Sans", sans-serif' font-weight="bold" font-size="8.3" fill="#111" stroke="#111" stroke-width="0.15">40</text>
<text x="429.5" y="817.3" text-anchor="end" font-family='"Liberation Sans", sans-serif' font-weight="bold" font-size="8.3" fill="#111" stroke="#111" stroke-width="0.15">50</text>
<text x="429.5" y="793.3" text-anchor="end" font-family='"Liberation Sans", sans-serif' font-weight="bold" font-size="8.3" fill="#111" stroke="#111" stroke-width="0.15">60</text>
<text x="429.5" y="769.3" text-anchor="end" font-family='"Liberation Sans", sans-serif' font-weight="bold" font-size="8.3" fill="#111" stroke="#111" stroke-width="0.15">70</text>
<text x="429.5" y="745.3" text-anchor="end" font-family='"Liberation Sans", sans-serif' font-weight="bold" font-size="8.3" fill="#111" stroke="#111" stroke-width="0.15">80</text>
<text x="429.5" y="721.3" text-anchor="end" font-family='"Liberation Sans", sans-serif' font-weight="bold" font-size="8.3" fill="#111" stroke="#111" stroke-width="0.15">90</text>
<text x="429.5" y="697.3" text-anchor="end" font-family='"Liberation Sans", sans-serif' font-weight="bold" font-size="8.3" fill="#111" stroke="#111" stroke-width="0.15">100</text>
<text x="437.5" y="947.7" text-anchor="middle" font-family='"Liberation Sans", sans-serif' font-weight="bold" font-size="8.3" fill="#111" stroke="#111" stroke-width="0.15">0</text>
<text x="492.52" y="947.7" text-anchor="middle" font-family='"Liberation Sans", sans-serif' font-weight="bold" font-size="8.3" fill="#111" stroke="#111" stroke-width="0.15">20</text>
<text x="547.54" y="947.7" text-anchor="middle" font-family='"Liberation Sans", sans-serif' font-weight="bold" font-size="8.3" fill="#111" stroke="#111" stroke-width="0.15">40</text>
<text x="602.56" y="947.7" text-anchor="middle" font-family='"Liberation Sans", sans-serif' font-weight="bold" font-size="8.3" fill="#111" stroke="#111" stroke-width="0.15">60</text>
<text x="657.58" y="947.7" text-anchor="middle" font-family='"Liberation Sans", sans-serif' font-weight="bold" font-size="8.3" fill="#111" stroke="#111" stroke-width="0.15">80</text>
<text x="712.6" y="947.7" text-anchor="middle" font-family='"Liberation Sans", sans-serif' font-weight="bold" font-size="8.3" fill="#111" stroke="#111" stroke-width="0.15">100</text>
<text x="568" y="960.6" font-family='"Liberation Sans", sans-serif' font-weight="bold" font-size="8.5" fill="#111" stroke="#111" stroke-width="0.15" textLength="17.6" lengthAdjust="spacingAndGlyphs">True</text>
<text transform="translate(410,804.8) rotate(-90)" text-anchor="middle" font-family='"Liberation Sans", sans-serif' font-weight="bold" font-size="8.5" fill="#111" stroke="#111" stroke-width="0.15" textLength="39.7" lengthAdjust="spacingAndGlyphs">Predicted</text>
<text x="37.9" y="20.4" font-family='"Liberation Sans", sans-serif' font-weight="bold" font-size="9.8" fill="#111" stroke="#111" stroke-width="0.22" textLength="230.9" lengthAdjust="spacingAndGlyphs">Baseline 2: PMV Predicted Value Versus Ground True</text>
<text x="445.3" y="11.8" font-family='"Liberation Sans", sans-serif' font-weight="bold" font-size="9.8" fill="#111" stroke="#111" stroke-width="0.22" textLength="234.4" lengthAdjust="spacingAndGlyphs">Baseline 2: PPD Predicted Value Versus Ground True</text>
<text x="40.3" y="355.2" font-family='"Liberation Sans", sans-serif' font-weight="bold" font-size="9.8" fill="#111" stroke="#111" stroke-width="0.22" textLength="236.1" lengthAdjust="spacingAndGlyphs">Alternative 1: PMV Predicted Value Versus Ground True</text>
<text x="444.7" y="346.7" font-family='"Liberation Sans", sans-serif' font-weight="bold" font-size="9.8" fill="#111" stroke="#111" stroke-width="0.22" textLength="244.2" lengthAdjust="spacingAndGlyphs">Alternative 1: PPD Predicted Value Versus Ground True</text>
<text x="40.3" y="687.1" font-family='"Liberation Sans", sans-serif' font-weight="bold" font-size="9.8" fill="#111" stroke="#111" stroke-width="0.22" textLength="234.6" lengthAdjust="spacingAndGlyphs">Alternative 2: PMV Predicted Value Versus Ground True</text>
<text x="445.7" y="674.3" font-family='"Liberation Sans", sans-serif' font-weight="bold" font-size="9.8" fill="#111" stroke="#111" stroke-width="0.22" textLength="243.5" lengthAdjust="spacingAndGlyphs">Alternative 2: PPD Predicted Value Versus Ground True</text>
<text x="41.7" y="326.7" font-family='"Liberation Serif", serif' font-size="20.5" fill="#000" textLength="223.4" lengthAdjust="spacingAndGlyphs">(<tspan font-weight="bold">c</tspan>) Baseline 2 (Bedroom)</text>
<text x="431.2" y="326.7" font-family='"Liberation Serif", serif' font-size="20.5" fill="#000" textLength="262.8" lengthAdjust="spacingAndGlyphs">(<tspan font-weight="bold">d</tspan>) Baseline 2 (Living Room)</text>
<text x="27.3" y="658.5" font-family='"Liberation Serif", serif' font-size="21.3" fill="#000" textLength="252.1" lengthAdjust="spacingAndGlyphs">(<tspan font-weight="bold">e</tspan>) Alternative 1 (Bedroom)</text>
<text x="419.8" y="658.5" font-family='"Liberation Serif", serif' font-size="21.3" fill="#000" textLength="285.8" lengthAdjust="spacingAndGlyphs">(<tspan font-weight="bold">f</tspan>) Alternative 1 (Living Room)</text>
<text x="26.8" y="986.7" font-family='"Liberation Serif", serif' font-size="21.3" fill="#000" textLength="253.3" lengthAdjust="spacingAndGlyphs">(<tspan font-weight="bold">g</tspan>) Alternative 2 (Bedroom)</text>
<text x="417.3" y="986.8" font-family='"Liberation Serif", serif' font-size="21.3" fill="#000" textLength="290.8" lengthAdjust="spacingAndGlyphs">(<tspan font-weight="bold">h</tspan>) Alternative 2 (Living Room)</text>
</svg></body></html>
